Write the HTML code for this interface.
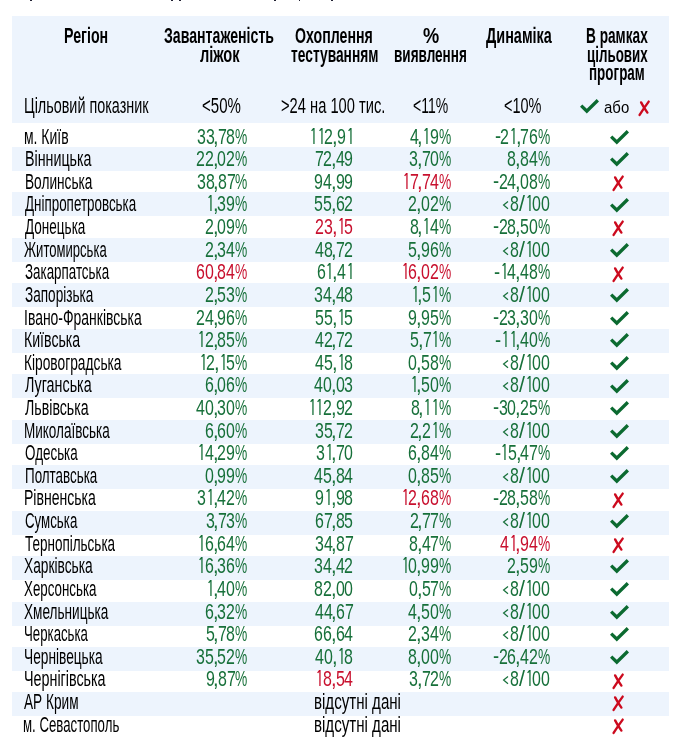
<!DOCTYPE html>
<html><head><meta charset="utf-8"><style>
html,body{margin:0;padding:0;background:#fff}
body{width:690px;height:744px;overflow:hidden;position:relative}
.t{position:absolute;white-space:nowrap;font-family:"Liberation Sans",sans-serif;line-height:1}
#L{position:absolute;left:0;top:0;width:690px;height:744px;will-change:transform}
</style></head><body>
<div style="position:absolute;left:12px;top:16px;width:657px;height:106.8px;background:#edf4fd"></div>
<div style="position:absolute;left:12px;top:146.90px;width:657px;height:24px;background:#edf4fd"></div>
<div style="position:absolute;left:12px;top:192.36px;width:657px;height:24px;background:#edf4fd"></div>
<div style="position:absolute;left:12px;top:237.82px;width:657px;height:24px;background:#edf4fd"></div>
<div style="position:absolute;left:12px;top:283.28px;width:657px;height:24px;background:#edf4fd"></div>
<div style="position:absolute;left:12px;top:328.74px;width:657px;height:24px;background:#edf4fd"></div>
<div style="position:absolute;left:12px;top:374.20px;width:657px;height:24px;background:#edf4fd"></div>
<div style="position:absolute;left:12px;top:419.66px;width:657px;height:24px;background:#edf4fd"></div>
<div style="position:absolute;left:12px;top:465.12px;width:657px;height:24px;background:#edf4fd"></div>
<div style="position:absolute;left:12px;top:510.58px;width:657px;height:24px;background:#edf4fd"></div>
<div style="position:absolute;left:12px;top:556.04px;width:657px;height:24px;background:#edf4fd"></div>
<div style="position:absolute;left:12px;top:601.50px;width:657px;height:24px;background:#edf4fd"></div>
<div style="position:absolute;left:12px;top:646.96px;width:657px;height:24px;background:#edf4fd"></div>
<div style="position:absolute;left:12px;top:692.42px;width:657px;height:24px;background:#edf4fd"></div>
<div id="L">
<div class="t" style="left:64.28px;top:25.22px;font-size:21.6px;color:#000;transform:scaleX(0.6583);transform-origin:0 18.28px;font-weight:bold;">Регіон</div>
<div class="t" style="left:164.25px;top:25.22px;font-size:21.6px;color:#000;transform:scaleX(0.6543);transform-origin:0 18.28px;font-weight:bold;">Завантаженість</div>
<div class="t" style="left:199.55px;top:43.72px;font-size:21.6px;color:#000;transform:scaleX(0.6773);transform-origin:0 18.28px;font-weight:bold;">ліжок</div>
<div class="t" style="left:295.33px;top:25.22px;font-size:21.6px;color:#000;transform:scaleX(0.6560);transform-origin:0 18.28px;font-weight:bold;">Охоплення</div>
<div class="t" style="left:290.59px;top:43.72px;font-size:21.6px;color:#000;transform:scaleX(0.6378);transform-origin:0 18.28px;font-weight:bold;">тестуванням</div>
<div class="t" style="left:423.04px;top:25.22px;font-size:21.6px;color:#000;transform:scaleX(0.8433);transform-origin:0 18.28px;font-weight:bold;">%</div>
<div class="t" style="left:393.55px;top:43.72px;font-size:21.6px;color:#000;transform:scaleX(0.6267);transform-origin:0 18.28px;font-weight:bold;">виявлення</div>
<div class="t" style="left:485.76px;top:25.22px;font-size:21.6px;color:#000;transform:scaleX(0.6680);transform-origin:0 18.28px;font-weight:bold;">Динаміка</div>
<div class="t" style="left:586.11px;top:25.22px;font-size:21.6px;color:#000;transform:scaleX(0.6325);transform-origin:0 18.28px;font-weight:bold;">В рамках</div>
<div class="t" style="left:586.56px;top:43.72px;font-size:21.6px;color:#000;transform:scaleX(0.6190);transform-origin:0 18.28px;font-weight:bold;">цільових</div>
<div class="t" style="left:589.46px;top:62.32px;font-size:21.6px;color:#000;transform:scaleX(0.6223);transform-origin:0 18.28px;font-weight:bold;">програм</div>
<div class="t" style="left:24.35px;top:95.18px;font-size:22px;color:#000;transform:scaleX(0.6537);transform-origin:0 18.62px;">Цільовий показник</div>
<div class="t" style="left:202.05px;top:95.18px;font-size:22px;color:#000;transform:scaleX(0.6836);transform-origin:0 18.62px;">&lt;50%</div>
<div class="t" style="left:281.47px;top:95.18px;font-size:22px;color:#000;transform:scaleX(0.6681);transform-origin:0 18.62px;">&gt;24 на 100 тис.</div>
<div class="t" style="left:412.80px;top:95.18px;font-size:22px;color:#000;transform:scaleX(0.6354);transform-origin:0 18.62px;">&lt;11%</div>
<div class="t" style="left:504.08px;top:95.18px;font-size:22px;color:#000;transform:scaleX(0.6582);transform-origin:0 18.62px;">&lt;10%</div>
<svg style="position:absolute;left:579.80px;top:99.40px;overflow:visible" width="20" height="16"><polygon points="2.30,5.40 6.80,9.80 16.70,0.00 19.00,2.40 6.80,14.60 0.00,7.80" fill="#0b6a30"/></svg>
<div class="t" style="left:604.20px;top:95.18px;font-size:22px;color:#000;transform:scale(0.6797,0.7800);transform-origin:0 18.62px;">або</div>
<svg style="position:absolute;left:638.00px;top:99.60px;overflow:visible" width="14" height="17"><path d="M10.7 1.6 Q6 8 1.6 14.9 M3.1 2.4 Q6 8 9.4 12.6" stroke="#cc0a1e" stroke-width="2.4" stroke-linecap="round" fill="none"/></svg>
<div class="t" style="left:23.82px;top:125.60px;font-size:22px;color:#000;transform:scaleX(0.6346);transform-origin:0 18.62px;">м. Київ</div>
<div class="t" style="left:196.70px;top:125.60px;font-size:22px;color:#17703a;transform:scale(0.7253,1.0250);transform-origin:0 18.62px;">3</div>
<div class="t" style="left:205.50px;top:125.60px;font-size:22px;color:#17703a;transform:scale(0.7253,1.0250);transform-origin:0 18.62px;">3</div>
<div class="t" style="left:213.10px;top:125.60px;font-size:22px;color:#17703a;transform:scaleX(0.9091);transform-origin:0 18.62px;">,</div>
<div class="t" style="left:218.00px;top:125.60px;font-size:22px;color:#17703a;transform:scale(0.7253,1.0250);transform-origin:0 18.62px;">7</div>
<div class="t" style="left:226.20px;top:125.60px;font-size:22px;color:#17703a;transform:scale(0.7253,1.0250);transform-origin:0 18.62px;">8</div>
<div class="t" style="left:235.22px;top:125.60px;font-size:22px;color:#17703a;transform:scale(0.6264,1.0250);transform-origin:0 18.62px;">%</div>
<svg style="position:absolute;left:311.00px;top:128.10px;overflow:visible" width="3.6" height="15.9"><path d="M2.95 0 V15.90 M2.65 0.5 L0.6 2.9" stroke="#17703a" stroke-width="1.3" fill="none"/></svg>
<svg style="position:absolute;left:318.60px;top:128.10px;overflow:visible" width="3.6" height="15.9"><path d="M2.95 0 V15.90 M2.65 0.5 L0.6 2.9" stroke="#17703a" stroke-width="1.3" fill="none"/></svg>
<div class="t" style="left:324.20px;top:125.60px;font-size:22px;color:#17703a;transform:scale(0.7253,1.0250);transform-origin:0 18.62px;">2</div>
<div class="t" style="left:331.80px;top:125.60px;font-size:22px;color:#17703a;transform:scaleX(0.9091);transform-origin:0 18.62px;">,</div>
<div class="t" style="left:336.70px;top:125.60px;font-size:22px;color:#17703a;transform:scale(0.7253,1.0250);transform-origin:0 18.62px;">9</div>
<svg style="position:absolute;left:347.50px;top:128.10px;overflow:visible" width="3.6" height="15.9"><path d="M2.95 0 V15.90 M2.65 0.5 L0.6 2.9" stroke="#17703a" stroke-width="1.3" fill="none"/></svg>
<div class="t" style="left:409.60px;top:125.60px;font-size:22px;color:#17703a;transform:scale(0.7253,1.0250);transform-origin:0 18.62px;">4</div>
<div class="t" style="left:417.20px;top:125.60px;font-size:22px;color:#17703a;transform:scaleX(0.9091);transform-origin:0 18.62px;">,</div>
<svg style="position:absolute;left:424.10px;top:128.10px;overflow:visible" width="3.6" height="15.9"><path d="M2.95 0 V15.90 M2.65 0.5 L0.6 2.9" stroke="#17703a" stroke-width="1.3" fill="none"/></svg>
<div class="t" style="left:429.70px;top:125.60px;font-size:22px;color:#17703a;transform:scale(0.7253,1.0250);transform-origin:0 18.62px;">9</div>
<div class="t" style="left:438.72px;top:125.60px;font-size:22px;color:#17703a;transform:scale(0.6264,1.0250);transform-origin:0 18.62px;">%</div>
<div class="t" style="left:494.87px;top:125.00px;font-size:22px;color:#17703a;transform:scaleX(0.8349);transform-origin:0 18.62px;">-</div>
<div class="t" style="left:500.30px;top:125.60px;font-size:22px;color:#17703a;transform:scale(0.7253,1.0250);transform-origin:0 18.62px;">2</div>
<svg style="position:absolute;left:511.10px;top:128.10px;overflow:visible" width="3.6" height="15.9"><path d="M2.95 0 V15.90 M2.65 0.5 L0.6 2.9" stroke="#17703a" stroke-width="1.3" fill="none"/></svg>
<div class="t" style="left:515.50px;top:125.60px;font-size:22px;color:#17703a;transform:scaleX(0.9091);transform-origin:0 18.62px;">,</div>
<div class="t" style="left:520.40px;top:125.60px;font-size:22px;color:#17703a;transform:scale(0.7253,1.0250);transform-origin:0 18.62px;">7</div>
<div class="t" style="left:528.60px;top:125.60px;font-size:22px;color:#17703a;transform:scale(0.7253,1.0250);transform-origin:0 18.62px;">6</div>
<div class="t" style="left:537.62px;top:125.60px;font-size:22px;color:#17703a;transform:scale(0.6264,1.0250);transform-origin:0 18.62px;">%</div>
<svg style="position:absolute;left:610.00px;top:129.75px;overflow:visible" width="20" height="16"><polygon points="2.30,5.40 6.80,9.80 16.70,0.00 19.00,2.40 6.80,14.60 0.00,7.80" fill="#0b6a30"/></svg>
<div class="t" style="left:24.56px;top:148.21px;font-size:22px;color:#000;transform:scaleX(0.6481);transform-origin:0 18.62px;">Вінницька</div>
<div class="t" style="left:196.10px;top:148.21px;font-size:22px;color:#17703a;transform:scale(0.7253,1.0250);transform-origin:0 18.62px;">2</div>
<div class="t" style="left:204.90px;top:148.21px;font-size:22px;color:#17703a;transform:scale(0.7253,1.0250);transform-origin:0 18.62px;">2</div>
<div class="t" style="left:212.50px;top:148.21px;font-size:22px;color:#17703a;transform:scaleX(0.9091);transform-origin:0 18.62px;">,</div>
<div class="t" style="left:217.40px;top:148.21px;font-size:22px;color:#17703a;transform:scale(0.7253,1.0250);transform-origin:0 18.62px;">0</div>
<div class="t" style="left:226.20px;top:148.21px;font-size:22px;color:#17703a;transform:scale(0.7253,1.0250);transform-origin:0 18.62px;">2</div>
<div class="t" style="left:235.22px;top:148.21px;font-size:22px;color:#17703a;transform:scale(0.6264,1.0250);transform-origin:0 18.62px;">%</div>
<div class="t" style="left:314.80px;top:148.21px;font-size:22px;color:#17703a;transform:scale(0.7253,1.0250);transform-origin:0 18.62px;">7</div>
<div class="t" style="left:323.00px;top:148.21px;font-size:22px;color:#17703a;transform:scale(0.7253,1.0250);transform-origin:0 18.62px;">2</div>
<div class="t" style="left:330.60px;top:148.21px;font-size:22px;color:#17703a;transform:scaleX(0.9091);transform-origin:0 18.62px;">,</div>
<div class="t" style="left:335.50px;top:148.21px;font-size:22px;color:#17703a;transform:scale(0.7253,1.0250);transform-origin:0 18.62px;">4</div>
<div class="t" style="left:344.30px;top:148.21px;font-size:22px;color:#17703a;transform:scale(0.7253,1.0250);transform-origin:0 18.62px;">9</div>
<div class="t" style="left:409.00px;top:148.21px;font-size:22px;color:#17703a;transform:scale(0.7253,1.0250);transform-origin:0 18.62px;">3</div>
<div class="t" style="left:416.60px;top:148.21px;font-size:22px;color:#17703a;transform:scaleX(0.9091);transform-origin:0 18.62px;">,</div>
<div class="t" style="left:421.50px;top:148.21px;font-size:22px;color:#17703a;transform:scale(0.7253,1.0250);transform-origin:0 18.62px;">7</div>
<div class="t" style="left:429.70px;top:148.21px;font-size:22px;color:#17703a;transform:scale(0.7253,1.0250);transform-origin:0 18.62px;">0</div>
<div class="t" style="left:438.72px;top:148.21px;font-size:22px;color:#17703a;transform:scale(0.6264,1.0250);transform-origin:0 18.62px;">%</div>
<div class="t" style="left:507.30px;top:148.21px;font-size:22px;color:#17703a;transform:scale(0.7253,1.0250);transform-origin:0 18.62px;">8</div>
<div class="t" style="left:514.90px;top:148.21px;font-size:22px;color:#17703a;transform:scaleX(0.9091);transform-origin:0 18.62px;">,</div>
<div class="t" style="left:519.80px;top:148.21px;font-size:22px;color:#17703a;transform:scale(0.7253,1.0250);transform-origin:0 18.62px;">8</div>
<div class="t" style="left:528.60px;top:148.21px;font-size:22px;color:#17703a;transform:scale(0.7253,1.0250);transform-origin:0 18.62px;">4</div>
<div class="t" style="left:537.62px;top:148.21px;font-size:22px;color:#17703a;transform:scale(0.6264,1.0250);transform-origin:0 18.62px;">%</div>
<svg style="position:absolute;left:610.00px;top:152.37px;overflow:visible" width="20" height="16"><polygon points="2.30,5.40 6.80,9.80 16.70,0.00 19.00,2.40 6.80,14.60 0.00,7.80" fill="#0b6a30"/></svg>
<div class="t" style="left:24.51px;top:170.83px;font-size:22px;color:#000;transform:scaleX(0.6214);transform-origin:0 18.62px;">Волинська</div>
<div class="t" style="left:196.70px;top:170.83px;font-size:22px;color:#17703a;transform:scale(0.7253,1.0250);transform-origin:0 18.62px;">3</div>
<div class="t" style="left:205.50px;top:170.83px;font-size:22px;color:#17703a;transform:scale(0.7253,1.0250);transform-origin:0 18.62px;">8</div>
<div class="t" style="left:213.10px;top:170.83px;font-size:22px;color:#17703a;transform:scaleX(0.9091);transform-origin:0 18.62px;">,</div>
<div class="t" style="left:218.00px;top:170.83px;font-size:22px;color:#17703a;transform:scale(0.7253,1.0250);transform-origin:0 18.62px;">8</div>
<div class="t" style="left:226.80px;top:170.83px;font-size:22px;color:#17703a;transform:scale(0.7253,1.0250);transform-origin:0 18.62px;">7</div>
<div class="t" style="left:235.22px;top:170.83px;font-size:22px;color:#17703a;transform:scale(0.6264,1.0250);transform-origin:0 18.62px;">%</div>
<div class="t" style="left:314.20px;top:170.83px;font-size:22px;color:#17703a;transform:scale(0.7253,1.0250);transform-origin:0 18.62px;">9</div>
<div class="t" style="left:323.00px;top:170.83px;font-size:22px;color:#17703a;transform:scale(0.7253,1.0250);transform-origin:0 18.62px;">4</div>
<div class="t" style="left:330.60px;top:170.83px;font-size:22px;color:#17703a;transform:scaleX(0.9091);transform-origin:0 18.62px;">,</div>
<div class="t" style="left:335.50px;top:170.83px;font-size:22px;color:#17703a;transform:scale(0.7253,1.0250);transform-origin:0 18.62px;">9</div>
<div class="t" style="left:344.30px;top:170.83px;font-size:22px;color:#17703a;transform:scale(0.7253,1.0250);transform-origin:0 18.62px;">9</div>
<svg style="position:absolute;left:404.00px;top:173.10px;overflow:visible" width="3.6" height="15.9"><path d="M2.95 0 V15.90 M2.65 0.5 L0.6 2.9" stroke="#c8102e" stroke-width="1.3" fill="none"/></svg>
<div class="t" style="left:409.60px;top:170.83px;font-size:22px;color:#c8102e;transform:scale(0.7253,1.0250);transform-origin:0 18.62px;">7</div>
<div class="t" style="left:416.60px;top:170.83px;font-size:22px;color:#c8102e;transform:scaleX(0.9091);transform-origin:0 18.62px;">,</div>
<div class="t" style="left:421.50px;top:170.83px;font-size:22px;color:#c8102e;transform:scale(0.7253,1.0250);transform-origin:0 18.62px;">7</div>
<div class="t" style="left:429.70px;top:170.83px;font-size:22px;color:#c8102e;transform:scale(0.7253,1.0250);transform-origin:0 18.62px;">4</div>
<div class="t" style="left:438.72px;top:170.83px;font-size:22px;color:#c8102e;transform:scale(0.6264,1.0250);transform-origin:0 18.62px;">%</div>
<div class="t" style="left:493.07px;top:170.23px;font-size:22px;color:#17703a;transform:scaleX(0.8349);transform-origin:0 18.62px;">-</div>
<div class="t" style="left:498.50px;top:170.83px;font-size:22px;color:#17703a;transform:scale(0.7253,1.0250);transform-origin:0 18.62px;">2</div>
<div class="t" style="left:507.30px;top:170.83px;font-size:22px;color:#17703a;transform:scale(0.7253,1.0250);transform-origin:0 18.62px;">4</div>
<div class="t" style="left:514.90px;top:170.83px;font-size:22px;color:#17703a;transform:scaleX(0.9091);transform-origin:0 18.62px;">,</div>
<div class="t" style="left:519.80px;top:170.83px;font-size:22px;color:#17703a;transform:scale(0.7253,1.0250);transform-origin:0 18.62px;">0</div>
<div class="t" style="left:528.60px;top:170.83px;font-size:22px;color:#17703a;transform:scale(0.7253,1.0250);transform-origin:0 18.62px;">8</div>
<div class="t" style="left:537.62px;top:170.83px;font-size:22px;color:#17703a;transform:scale(0.6264,1.0250);transform-origin:0 18.62px;">%</div>
<svg style="position:absolute;left:612.30px;top:175.05px;overflow:visible" width="14" height="17"><path d="M10.7 1.6 Q6 8 1.6 14.9 M3.1 2.4 Q6 8 9.4 12.6" stroke="#cc0a1e" stroke-width="2.4" stroke-linecap="round" fill="none"/></svg>
<div class="t" style="left:24.63px;top:193.44px;font-size:22px;color:#000;transform:scaleX(0.6092);transform-origin:0 18.62px;">Дніпропетровська</div>
<svg style="position:absolute;left:208.10px;top:195.10px;overflow:visible" width="3.6" height="15.9"><path d="M2.95 0 V15.90 M2.65 0.5 L0.6 2.9" stroke="#17703a" stroke-width="1.3" fill="none"/></svg>
<div class="t" style="left:212.50px;top:193.44px;font-size:22px;color:#17703a;transform:scaleX(0.9091);transform-origin:0 18.62px;">,</div>
<div class="t" style="left:217.40px;top:193.44px;font-size:22px;color:#17703a;transform:scale(0.7253,1.0250);transform-origin:0 18.62px;">3</div>
<div class="t" style="left:226.20px;top:193.44px;font-size:22px;color:#17703a;transform:scale(0.7253,1.0250);transform-origin:0 18.62px;">9</div>
<div class="t" style="left:235.22px;top:193.44px;font-size:22px;color:#17703a;transform:scale(0.6264,1.0250);transform-origin:0 18.62px;">%</div>
<div class="t" style="left:314.20px;top:193.44px;font-size:22px;color:#17703a;transform:scale(0.7253,1.0250);transform-origin:0 18.62px;">5</div>
<div class="t" style="left:323.00px;top:193.44px;font-size:22px;color:#17703a;transform:scale(0.7253,1.0250);transform-origin:0 18.62px;">5</div>
<div class="t" style="left:330.60px;top:193.44px;font-size:22px;color:#17703a;transform:scaleX(0.9091);transform-origin:0 18.62px;">,</div>
<div class="t" style="left:335.50px;top:193.44px;font-size:22px;color:#17703a;transform:scale(0.7253,1.0250);transform-origin:0 18.62px;">6</div>
<div class="t" style="left:344.30px;top:193.44px;font-size:22px;color:#17703a;transform:scale(0.7253,1.0250);transform-origin:0 18.62px;">2</div>
<div class="t" style="left:408.40px;top:193.44px;font-size:22px;color:#17703a;transform:scale(0.7253,1.0250);transform-origin:0 18.62px;">2</div>
<div class="t" style="left:416.00px;top:193.44px;font-size:22px;color:#17703a;transform:scaleX(0.9091);transform-origin:0 18.62px;">,</div>
<div class="t" style="left:420.90px;top:193.44px;font-size:22px;color:#17703a;transform:scale(0.7253,1.0250);transform-origin:0 18.62px;">0</div>
<div class="t" style="left:429.70px;top:193.44px;font-size:22px;color:#17703a;transform:scale(0.7253,1.0250);transform-origin:0 18.62px;">2</div>
<div class="t" style="left:438.72px;top:193.44px;font-size:22px;color:#17703a;transform:scale(0.6264,1.0250);transform-origin:0 18.62px;">%</div>
<svg style="position:absolute;left:502.80px;top:201.30px;overflow:visible" width="5.5" height="8.2"><path d="M5.00 0.45 L0.6 4.10 L5.00 7.75" stroke="#17703a" stroke-width="1.25" fill="none" stroke-linejoin="miter"/></svg>
<div class="t" style="left:509.80px;top:193.44px;font-size:22px;color:#17703a;transform:scale(0.7253,1.0250);transform-origin:0 18.62px;">8</div>
<div class="t" style="left:518.70px;top:193.44px;font-size:22px;color:#17703a;transform:scaleX(0.9740);transform-origin:0 18.62px;">/</div>
<svg style="position:absolute;left:526.80px;top:195.10px;overflow:visible" width="3.6" height="15.9"><path d="M2.95 0 V15.90 M2.65 0.5 L0.6 2.9" stroke="#17703a" stroke-width="1.3" fill="none"/></svg>
<div class="t" style="left:532.40px;top:193.44px;font-size:22px;color:#17703a;transform:scale(0.7253,1.0250);transform-origin:0 18.62px;">0</div>
<div class="t" style="left:541.20px;top:193.44px;font-size:22px;color:#17703a;transform:scale(0.7253,1.0250);transform-origin:0 18.62px;">0</div>
<svg style="position:absolute;left:610.00px;top:197.59px;overflow:visible" width="20" height="16"><polygon points="2.30,5.40 6.80,9.80 16.70,0.00 19.00,2.40 6.80,14.60 0.00,7.80" fill="#0b6a30"/></svg>
<div class="t" style="left:24.63px;top:216.06px;font-size:22px;color:#000;transform:scaleX(0.6152);transform-origin:0 18.62px;">Донецька</div>
<div class="t" style="left:204.90px;top:216.06px;font-size:22px;color:#17703a;transform:scale(0.7253,1.0250);transform-origin:0 18.62px;">2</div>
<div class="t" style="left:212.50px;top:216.06px;font-size:22px;color:#17703a;transform:scaleX(0.9091);transform-origin:0 18.62px;">,</div>
<div class="t" style="left:217.40px;top:216.06px;font-size:22px;color:#17703a;transform:scale(0.7253,1.0250);transform-origin:0 18.62px;">0</div>
<div class="t" style="left:226.20px;top:216.06px;font-size:22px;color:#17703a;transform:scale(0.7253,1.0250);transform-origin:0 18.62px;">9</div>
<div class="t" style="left:235.22px;top:216.06px;font-size:22px;color:#17703a;transform:scale(0.6264,1.0250);transform-origin:0 18.62px;">%</div>
<div class="t" style="left:315.40px;top:216.06px;font-size:22px;color:#c8102e;transform:scale(0.7253,1.0250);transform-origin:0 18.62px;">2</div>
<div class="t" style="left:324.20px;top:216.06px;font-size:22px;color:#c8102e;transform:scale(0.7253,1.0250);transform-origin:0 18.62px;">3</div>
<div class="t" style="left:331.80px;top:216.06px;font-size:22px;color:#c8102e;transform:scaleX(0.9091);transform-origin:0 18.62px;">,</div>
<svg style="position:absolute;left:338.70px;top:218.10px;overflow:visible" width="3.6" height="15.9"><path d="M2.95 0 V15.90 M2.65 0.5 L0.6 2.9" stroke="#c8102e" stroke-width="1.3" fill="none"/></svg>
<div class="t" style="left:344.30px;top:216.06px;font-size:22px;color:#c8102e;transform:scale(0.7253,1.0250);transform-origin:0 18.62px;">5</div>
<div class="t" style="left:409.60px;top:216.06px;font-size:22px;color:#17703a;transform:scale(0.7253,1.0250);transform-origin:0 18.62px;">8</div>
<div class="t" style="left:417.20px;top:216.06px;font-size:22px;color:#17703a;transform:scaleX(0.9091);transform-origin:0 18.62px;">,</div>
<svg style="position:absolute;left:424.10px;top:218.10px;overflow:visible" width="3.6" height="15.9"><path d="M2.95 0 V15.90 M2.65 0.5 L0.6 2.9" stroke="#17703a" stroke-width="1.3" fill="none"/></svg>
<div class="t" style="left:429.70px;top:216.06px;font-size:22px;color:#17703a;transform:scale(0.7253,1.0250);transform-origin:0 18.62px;">4</div>
<div class="t" style="left:438.72px;top:216.06px;font-size:22px;color:#17703a;transform:scale(0.6264,1.0250);transform-origin:0 18.62px;">%</div>
<div class="t" style="left:493.07px;top:215.46px;font-size:22px;color:#17703a;transform:scaleX(0.8349);transform-origin:0 18.62px;">-</div>
<div class="t" style="left:498.50px;top:216.06px;font-size:22px;color:#17703a;transform:scale(0.7253,1.0250);transform-origin:0 18.62px;">2</div>
<div class="t" style="left:507.30px;top:216.06px;font-size:22px;color:#17703a;transform:scale(0.7253,1.0250);transform-origin:0 18.62px;">8</div>
<div class="t" style="left:514.90px;top:216.06px;font-size:22px;color:#17703a;transform:scaleX(0.9091);transform-origin:0 18.62px;">,</div>
<div class="t" style="left:519.80px;top:216.06px;font-size:22px;color:#17703a;transform:scale(0.7253,1.0250);transform-origin:0 18.62px;">5</div>
<div class="t" style="left:528.60px;top:216.06px;font-size:22px;color:#17703a;transform:scale(0.7253,1.0250);transform-origin:0 18.62px;">0</div>
<div class="t" style="left:537.62px;top:216.06px;font-size:22px;color:#17703a;transform:scale(0.6264,1.0250);transform-origin:0 18.62px;">%</div>
<svg style="position:absolute;left:612.30px;top:220.28px;overflow:visible" width="14" height="17"><path d="M10.7 1.6 Q6 8 1.6 14.9 M3.1 2.4 Q6 8 9.4 12.6" stroke="#cc0a1e" stroke-width="2.4" stroke-linecap="round" fill="none"/></svg>
<div class="t" style="left:23.90px;top:238.67px;font-size:22px;color:#000;transform:scaleX(0.5943);transform-origin:0 18.62px;">Житомирська</div>
<div class="t" style="left:204.90px;top:238.67px;font-size:22px;color:#17703a;transform:scale(0.7253,1.0250);transform-origin:0 18.62px;">2</div>
<div class="t" style="left:212.50px;top:238.67px;font-size:22px;color:#17703a;transform:scaleX(0.9091);transform-origin:0 18.62px;">,</div>
<div class="t" style="left:217.40px;top:238.67px;font-size:22px;color:#17703a;transform:scale(0.7253,1.0250);transform-origin:0 18.62px;">3</div>
<div class="t" style="left:226.20px;top:238.67px;font-size:22px;color:#17703a;transform:scale(0.7253,1.0250);transform-origin:0 18.62px;">4</div>
<div class="t" style="left:235.22px;top:238.67px;font-size:22px;color:#17703a;transform:scale(0.6264,1.0250);transform-origin:0 18.62px;">%</div>
<div class="t" style="left:314.80px;top:238.67px;font-size:22px;color:#17703a;transform:scale(0.7253,1.0250);transform-origin:0 18.62px;">4</div>
<div class="t" style="left:323.60px;top:238.67px;font-size:22px;color:#17703a;transform:scale(0.7253,1.0250);transform-origin:0 18.62px;">8</div>
<div class="t" style="left:331.20px;top:238.67px;font-size:22px;color:#17703a;transform:scaleX(0.9091);transform-origin:0 18.62px;">,</div>
<div class="t" style="left:336.10px;top:238.67px;font-size:22px;color:#17703a;transform:scale(0.7253,1.0250);transform-origin:0 18.62px;">7</div>
<div class="t" style="left:344.30px;top:238.67px;font-size:22px;color:#17703a;transform:scale(0.7253,1.0250);transform-origin:0 18.62px;">2</div>
<div class="t" style="left:408.40px;top:238.67px;font-size:22px;color:#17703a;transform:scale(0.7253,1.0250);transform-origin:0 18.62px;">5</div>
<div class="t" style="left:416.00px;top:238.67px;font-size:22px;color:#17703a;transform:scaleX(0.9091);transform-origin:0 18.62px;">,</div>
<div class="t" style="left:420.90px;top:238.67px;font-size:22px;color:#17703a;transform:scale(0.7253,1.0250);transform-origin:0 18.62px;">9</div>
<div class="t" style="left:429.70px;top:238.67px;font-size:22px;color:#17703a;transform:scale(0.7253,1.0250);transform-origin:0 18.62px;">6</div>
<div class="t" style="left:438.72px;top:238.67px;font-size:22px;color:#17703a;transform:scale(0.6264,1.0250);transform-origin:0 18.62px;">%</div>
<svg style="position:absolute;left:502.80px;top:247.30px;overflow:visible" width="5.5" height="8.2"><path d="M5.00 0.45 L0.6 4.10 L5.00 7.75" stroke="#17703a" stroke-width="1.25" fill="none" stroke-linejoin="miter"/></svg>
<div class="t" style="left:509.80px;top:238.67px;font-size:22px;color:#17703a;transform:scale(0.7253,1.0250);transform-origin:0 18.62px;">8</div>
<div class="t" style="left:518.70px;top:238.67px;font-size:22px;color:#17703a;transform:scaleX(0.9740);transform-origin:0 18.62px;">/</div>
<svg style="position:absolute;left:526.80px;top:241.10px;overflow:visible" width="3.6" height="15.9"><path d="M2.95 0 V15.90 M2.65 0.5 L0.6 2.9" stroke="#17703a" stroke-width="1.3" fill="none"/></svg>
<div class="t" style="left:532.40px;top:238.67px;font-size:22px;color:#17703a;transform:scale(0.7253,1.0250);transform-origin:0 18.62px;">0</div>
<div class="t" style="left:541.20px;top:238.67px;font-size:22px;color:#17703a;transform:scale(0.7253,1.0250);transform-origin:0 18.62px;">0</div>
<svg style="position:absolute;left:610.00px;top:242.82px;overflow:visible" width="20" height="16"><polygon points="2.30,5.40 6.80,9.80 16.70,0.00 19.00,2.40 6.80,14.60 0.00,7.80" fill="#0b6a30"/></svg>
<div class="t" style="left:24.83px;top:261.29px;font-size:22px;color:#000;transform:scaleX(0.6075);transform-origin:0 18.62px;">Закарпатська</div>
<div class="t" style="left:196.10px;top:261.29px;font-size:22px;color:#c8102e;transform:scale(0.7253,1.0250);transform-origin:0 18.62px;">6</div>
<div class="t" style="left:204.90px;top:261.29px;font-size:22px;color:#c8102e;transform:scale(0.7253,1.0250);transform-origin:0 18.62px;">0</div>
<div class="t" style="left:212.50px;top:261.29px;font-size:22px;color:#c8102e;transform:scaleX(0.9091);transform-origin:0 18.62px;">,</div>
<div class="t" style="left:217.40px;top:261.29px;font-size:22px;color:#c8102e;transform:scale(0.7253,1.0250);transform-origin:0 18.62px;">8</div>
<div class="t" style="left:226.20px;top:261.29px;font-size:22px;color:#c8102e;transform:scale(0.7253,1.0250);transform-origin:0 18.62px;">4</div>
<div class="t" style="left:235.22px;top:261.29px;font-size:22px;color:#c8102e;transform:scale(0.6264,1.0250);transform-origin:0 18.62px;">%</div>
<div class="t" style="left:316.60px;top:261.29px;font-size:22px;color:#17703a;transform:scale(0.7253,1.0250);transform-origin:0 18.62px;">6</div>
<svg style="position:absolute;left:327.40px;top:263.10px;overflow:visible" width="3.6" height="15.9"><path d="M2.95 0 V15.90 M2.65 0.5 L0.6 2.9" stroke="#17703a" stroke-width="1.3" fill="none"/></svg>
<div class="t" style="left:331.80px;top:261.29px;font-size:22px;color:#17703a;transform:scaleX(0.9091);transform-origin:0 18.62px;">,</div>
<div class="t" style="left:336.70px;top:261.29px;font-size:22px;color:#17703a;transform:scale(0.7253,1.0250);transform-origin:0 18.62px;">4</div>
<svg style="position:absolute;left:347.50px;top:263.10px;overflow:visible" width="3.6" height="15.9"><path d="M2.95 0 V15.90 M2.65 0.5 L0.6 2.9" stroke="#17703a" stroke-width="1.3" fill="none"/></svg>
<svg style="position:absolute;left:402.80px;top:263.10px;overflow:visible" width="3.6" height="15.9"><path d="M2.95 0 V15.90 M2.65 0.5 L0.6 2.9" stroke="#c8102e" stroke-width="1.3" fill="none"/></svg>
<div class="t" style="left:408.40px;top:261.29px;font-size:22px;color:#c8102e;transform:scale(0.7253,1.0250);transform-origin:0 18.62px;">6</div>
<div class="t" style="left:416.00px;top:261.29px;font-size:22px;color:#c8102e;transform:scaleX(0.9091);transform-origin:0 18.62px;">,</div>
<div class="t" style="left:420.90px;top:261.29px;font-size:22px;color:#c8102e;transform:scale(0.7253,1.0250);transform-origin:0 18.62px;">0</div>
<div class="t" style="left:429.70px;top:261.29px;font-size:22px;color:#c8102e;transform:scale(0.7253,1.0250);transform-origin:0 18.62px;">2</div>
<div class="t" style="left:438.72px;top:261.29px;font-size:22px;color:#c8102e;transform:scale(0.6264,1.0250);transform-origin:0 18.62px;">%</div>
<div class="t" style="left:494.27px;top:260.69px;font-size:22px;color:#17703a;transform:scaleX(0.8349);transform-origin:0 18.62px;">-</div>
<svg style="position:absolute;left:501.70px;top:263.10px;overflow:visible" width="3.6" height="15.9"><path d="M2.95 0 V15.90 M2.65 0.5 L0.6 2.9" stroke="#17703a" stroke-width="1.3" fill="none"/></svg>
<div class="t" style="left:507.30px;top:261.29px;font-size:22px;color:#17703a;transform:scale(0.7253,1.0250);transform-origin:0 18.62px;">4</div>
<div class="t" style="left:514.90px;top:261.29px;font-size:22px;color:#17703a;transform:scaleX(0.9091);transform-origin:0 18.62px;">,</div>
<div class="t" style="left:519.80px;top:261.29px;font-size:22px;color:#17703a;transform:scale(0.7253,1.0250);transform-origin:0 18.62px;">4</div>
<div class="t" style="left:528.60px;top:261.29px;font-size:22px;color:#17703a;transform:scale(0.7253,1.0250);transform-origin:0 18.62px;">8</div>
<div class="t" style="left:537.62px;top:261.29px;font-size:22px;color:#17703a;transform:scale(0.6264,1.0250);transform-origin:0 18.62px;">%</div>
<svg style="position:absolute;left:612.30px;top:265.51px;overflow:visible" width="14" height="17"><path d="M10.7 1.6 Q6 8 1.6 14.9 M3.1 2.4 Q6 8 9.4 12.6" stroke="#cc0a1e" stroke-width="2.4" stroke-linecap="round" fill="none"/></svg>
<div class="t" style="left:24.82px;top:283.90px;font-size:22px;color:#000;transform:scaleX(0.6170);transform-origin:0 18.62px;">Запорізька</div>
<div class="t" style="left:204.90px;top:283.90px;font-size:22px;color:#17703a;transform:scale(0.7253,1.0250);transform-origin:0 18.62px;">2</div>
<div class="t" style="left:212.50px;top:283.90px;font-size:22px;color:#17703a;transform:scaleX(0.9091);transform-origin:0 18.62px;">,</div>
<div class="t" style="left:217.40px;top:283.90px;font-size:22px;color:#17703a;transform:scale(0.7253,1.0250);transform-origin:0 18.62px;">5</div>
<div class="t" style="left:226.20px;top:283.90px;font-size:22px;color:#17703a;transform:scale(0.7253,1.0250);transform-origin:0 18.62px;">3</div>
<div class="t" style="left:235.22px;top:283.90px;font-size:22px;color:#17703a;transform:scale(0.6264,1.0250);transform-origin:0 18.62px;">%</div>
<div class="t" style="left:314.20px;top:283.90px;font-size:22px;color:#17703a;transform:scale(0.7253,1.0250);transform-origin:0 18.62px;">3</div>
<div class="t" style="left:323.00px;top:283.90px;font-size:22px;color:#17703a;transform:scale(0.7253,1.0250);transform-origin:0 18.62px;">4</div>
<div class="t" style="left:330.60px;top:283.90px;font-size:22px;color:#17703a;transform:scaleX(0.9091);transform-origin:0 18.62px;">,</div>
<div class="t" style="left:335.50px;top:283.90px;font-size:22px;color:#17703a;transform:scale(0.7253,1.0250);transform-origin:0 18.62px;">4</div>
<div class="t" style="left:344.30px;top:283.90px;font-size:22px;color:#17703a;transform:scale(0.7253,1.0250);transform-origin:0 18.62px;">8</div>
<svg style="position:absolute;left:412.80px;top:286.10px;overflow:visible" width="3.6" height="15.9"><path d="M2.95 0 V15.90 M2.65 0.5 L0.6 2.9" stroke="#17703a" stroke-width="1.3" fill="none"/></svg>
<div class="t" style="left:417.20px;top:283.90px;font-size:22px;color:#17703a;transform:scaleX(0.9091);transform-origin:0 18.62px;">,</div>
<div class="t" style="left:422.10px;top:283.90px;font-size:22px;color:#17703a;transform:scale(0.7253,1.0250);transform-origin:0 18.62px;">5</div>
<svg style="position:absolute;left:432.90px;top:286.10px;overflow:visible" width="3.6" height="15.9"><path d="M2.95 0 V15.90 M2.65 0.5 L0.6 2.9" stroke="#17703a" stroke-width="1.3" fill="none"/></svg>
<div class="t" style="left:438.72px;top:283.90px;font-size:22px;color:#17703a;transform:scale(0.6264,1.0250);transform-origin:0 18.62px;">%</div>
<svg style="position:absolute;left:502.80px;top:292.30px;overflow:visible" width="5.5" height="8.2"><path d="M5.00 0.45 L0.6 4.10 L5.00 7.75" stroke="#17703a" stroke-width="1.25" fill="none" stroke-linejoin="miter"/></svg>
<div class="t" style="left:509.80px;top:283.90px;font-size:22px;color:#17703a;transform:scale(0.7253,1.0250);transform-origin:0 18.62px;">8</div>
<div class="t" style="left:518.70px;top:283.90px;font-size:22px;color:#17703a;transform:scaleX(0.9740);transform-origin:0 18.62px;">/</div>
<svg style="position:absolute;left:526.80px;top:286.10px;overflow:visible" width="3.6" height="15.9"><path d="M2.95 0 V15.90 M2.65 0.5 L0.6 2.9" stroke="#17703a" stroke-width="1.3" fill="none"/></svg>
<div class="t" style="left:532.40px;top:283.90px;font-size:22px;color:#17703a;transform:scale(0.7253,1.0250);transform-origin:0 18.62px;">0</div>
<div class="t" style="left:541.20px;top:283.90px;font-size:22px;color:#17703a;transform:scale(0.7253,1.0250);transform-origin:0 18.62px;">0</div>
<svg style="position:absolute;left:610.00px;top:288.05px;overflow:visible" width="20" height="16"><polygon points="2.30,5.40 6.80,9.80 16.70,0.00 19.00,2.40 6.80,14.60 0.00,7.80" fill="#0b6a30"/></svg>
<div class="t" style="left:24.34px;top:306.52px;font-size:22px;color:#000;transform:scaleX(0.6340);transform-origin:0 18.62px;">Івано-Франківська</div>
<div class="t" style="left:196.10px;top:306.52px;font-size:22px;color:#17703a;transform:scale(0.7253,1.0250);transform-origin:0 18.62px;">2</div>
<div class="t" style="left:204.90px;top:306.52px;font-size:22px;color:#17703a;transform:scale(0.7253,1.0250);transform-origin:0 18.62px;">4</div>
<div class="t" style="left:212.50px;top:306.52px;font-size:22px;color:#17703a;transform:scaleX(0.9091);transform-origin:0 18.62px;">,</div>
<div class="t" style="left:217.40px;top:306.52px;font-size:22px;color:#17703a;transform:scale(0.7253,1.0250);transform-origin:0 18.62px;">9</div>
<div class="t" style="left:226.20px;top:306.52px;font-size:22px;color:#17703a;transform:scale(0.7253,1.0250);transform-origin:0 18.62px;">6</div>
<div class="t" style="left:235.22px;top:306.52px;font-size:22px;color:#17703a;transform:scale(0.6264,1.0250);transform-origin:0 18.62px;">%</div>
<div class="t" style="left:315.40px;top:306.52px;font-size:22px;color:#17703a;transform:scale(0.7253,1.0250);transform-origin:0 18.62px;">5</div>
<div class="t" style="left:324.20px;top:306.52px;font-size:22px;color:#17703a;transform:scale(0.7253,1.0250);transform-origin:0 18.62px;">5</div>
<div class="t" style="left:331.80px;top:306.52px;font-size:22px;color:#17703a;transform:scaleX(0.9091);transform-origin:0 18.62px;">,</div>
<svg style="position:absolute;left:338.70px;top:309.10px;overflow:visible" width="3.6" height="15.9"><path d="M2.95 0 V15.90 M2.65 0.5 L0.6 2.9" stroke="#17703a" stroke-width="1.3" fill="none"/></svg>
<div class="t" style="left:344.30px;top:306.52px;font-size:22px;color:#17703a;transform:scale(0.7253,1.0250);transform-origin:0 18.62px;">5</div>
<div class="t" style="left:408.40px;top:306.52px;font-size:22px;color:#17703a;transform:scale(0.7253,1.0250);transform-origin:0 18.62px;">9</div>
<div class="t" style="left:416.00px;top:306.52px;font-size:22px;color:#17703a;transform:scaleX(0.9091);transform-origin:0 18.62px;">,</div>
<div class="t" style="left:420.90px;top:306.52px;font-size:22px;color:#17703a;transform:scale(0.7253,1.0250);transform-origin:0 18.62px;">9</div>
<div class="t" style="left:429.70px;top:306.52px;font-size:22px;color:#17703a;transform:scale(0.7253,1.0250);transform-origin:0 18.62px;">5</div>
<div class="t" style="left:438.72px;top:306.52px;font-size:22px;color:#17703a;transform:scale(0.6264,1.0250);transform-origin:0 18.62px;">%</div>
<div class="t" style="left:493.07px;top:305.92px;font-size:22px;color:#17703a;transform:scaleX(0.8349);transform-origin:0 18.62px;">-</div>
<div class="t" style="left:498.50px;top:306.52px;font-size:22px;color:#17703a;transform:scale(0.7253,1.0250);transform-origin:0 18.62px;">2</div>
<div class="t" style="left:507.30px;top:306.52px;font-size:22px;color:#17703a;transform:scale(0.7253,1.0250);transform-origin:0 18.62px;">3</div>
<div class="t" style="left:514.90px;top:306.52px;font-size:22px;color:#17703a;transform:scaleX(0.9091);transform-origin:0 18.62px;">,</div>
<div class="t" style="left:519.80px;top:306.52px;font-size:22px;color:#17703a;transform:scale(0.7253,1.0250);transform-origin:0 18.62px;">3</div>
<div class="t" style="left:528.60px;top:306.52px;font-size:22px;color:#17703a;transform:scale(0.7253,1.0250);transform-origin:0 18.62px;">0</div>
<div class="t" style="left:537.62px;top:306.52px;font-size:22px;color:#17703a;transform:scale(0.6264,1.0250);transform-origin:0 18.62px;">%</div>
<svg style="position:absolute;left:610.00px;top:310.67px;overflow:visible" width="20" height="16"><polygon points="2.30,5.40 6.80,9.80 16.70,0.00 19.00,2.40 6.80,14.60 0.00,7.80" fill="#0b6a30"/></svg>
<div class="t" style="left:24.17px;top:329.13px;font-size:22px;color:#000;transform:scaleX(0.6418);transform-origin:0 18.62px;">Київська</div>
<svg style="position:absolute;left:199.30px;top:331.10px;overflow:visible" width="3.6" height="15.9"><path d="M2.95 0 V15.90 M2.65 0.5 L0.6 2.9" stroke="#17703a" stroke-width="1.3" fill="none"/></svg>
<div class="t" style="left:204.90px;top:329.13px;font-size:22px;color:#17703a;transform:scale(0.7253,1.0250);transform-origin:0 18.62px;">2</div>
<div class="t" style="left:212.50px;top:329.13px;font-size:22px;color:#17703a;transform:scaleX(0.9091);transform-origin:0 18.62px;">,</div>
<div class="t" style="left:217.40px;top:329.13px;font-size:22px;color:#17703a;transform:scale(0.7253,1.0250);transform-origin:0 18.62px;">8</div>
<div class="t" style="left:226.20px;top:329.13px;font-size:22px;color:#17703a;transform:scale(0.7253,1.0250);transform-origin:0 18.62px;">5</div>
<div class="t" style="left:235.22px;top:329.13px;font-size:22px;color:#17703a;transform:scale(0.6264,1.0250);transform-origin:0 18.62px;">%</div>
<div class="t" style="left:314.80px;top:329.13px;font-size:22px;color:#17703a;transform:scale(0.7253,1.0250);transform-origin:0 18.62px;">4</div>
<div class="t" style="left:323.60px;top:329.13px;font-size:22px;color:#17703a;transform:scale(0.7253,1.0250);transform-origin:0 18.62px;">2</div>
<div class="t" style="left:331.20px;top:329.13px;font-size:22px;color:#17703a;transform:scaleX(0.9091);transform-origin:0 18.62px;">,</div>
<div class="t" style="left:336.10px;top:329.13px;font-size:22px;color:#17703a;transform:scale(0.7253,1.0250);transform-origin:0 18.62px;">7</div>
<div class="t" style="left:344.30px;top:329.13px;font-size:22px;color:#17703a;transform:scale(0.7253,1.0250);transform-origin:0 18.62px;">2</div>
<div class="t" style="left:410.20px;top:329.13px;font-size:22px;color:#17703a;transform:scale(0.7253,1.0250);transform-origin:0 18.62px;">5</div>
<div class="t" style="left:417.80px;top:329.13px;font-size:22px;color:#17703a;transform:scaleX(0.9091);transform-origin:0 18.62px;">,</div>
<div class="t" style="left:422.70px;top:329.13px;font-size:22px;color:#17703a;transform:scale(0.7253,1.0250);transform-origin:0 18.62px;">7</div>
<svg style="position:absolute;left:432.90px;top:331.10px;overflow:visible" width="3.6" height="15.9"><path d="M2.95 0 V15.90 M2.65 0.5 L0.6 2.9" stroke="#17703a" stroke-width="1.3" fill="none"/></svg>
<div class="t" style="left:438.72px;top:329.13px;font-size:22px;color:#17703a;transform:scale(0.6264,1.0250);transform-origin:0 18.62px;">%</div>
<div class="t" style="left:495.47px;top:328.53px;font-size:22px;color:#17703a;transform:scaleX(0.8349);transform-origin:0 18.62px;">-</div>
<svg style="position:absolute;left:502.90px;top:331.10px;overflow:visible" width="3.6" height="15.9"><path d="M2.95 0 V15.90 M2.65 0.5 L0.6 2.9" stroke="#17703a" stroke-width="1.3" fill="none"/></svg>
<svg style="position:absolute;left:510.50px;top:331.10px;overflow:visible" width="3.6" height="15.9"><path d="M2.95 0 V15.90 M2.65 0.5 L0.6 2.9" stroke="#17703a" stroke-width="1.3" fill="none"/></svg>
<div class="t" style="left:514.90px;top:329.13px;font-size:22px;color:#17703a;transform:scaleX(0.9091);transform-origin:0 18.62px;">,</div>
<div class="t" style="left:519.80px;top:329.13px;font-size:22px;color:#17703a;transform:scale(0.7253,1.0250);transform-origin:0 18.62px;">4</div>
<div class="t" style="left:528.60px;top:329.13px;font-size:22px;color:#17703a;transform:scale(0.7253,1.0250);transform-origin:0 18.62px;">0</div>
<div class="t" style="left:537.62px;top:329.13px;font-size:22px;color:#17703a;transform:scale(0.6264,1.0250);transform-origin:0 18.62px;">%</div>
<svg style="position:absolute;left:610.00px;top:333.28px;overflow:visible" width="20" height="16"><polygon points="2.30,5.40 6.80,9.80 16.70,0.00 19.00,2.40 6.80,14.60 0.00,7.80" fill="#0b6a30"/></svg>
<div class="t" style="left:24.20px;top:351.75px;font-size:22px;color:#000;transform:scaleX(0.6251);transform-origin:0 18.62px;">Кіровоградська</div>
<svg style="position:absolute;left:200.50px;top:354.10px;overflow:visible" width="3.6" height="15.9"><path d="M2.95 0 V15.90 M2.65 0.5 L0.6 2.9" stroke="#17703a" stroke-width="1.3" fill="none"/></svg>
<div class="t" style="left:206.10px;top:351.75px;font-size:22px;color:#17703a;transform:scale(0.7253,1.0250);transform-origin:0 18.62px;">2</div>
<div class="t" style="left:213.70px;top:351.75px;font-size:22px;color:#17703a;transform:scaleX(0.9091);transform-origin:0 18.62px;">,</div>
<svg style="position:absolute;left:220.60px;top:354.10px;overflow:visible" width="3.6" height="15.9"><path d="M2.95 0 V15.90 M2.65 0.5 L0.6 2.9" stroke="#17703a" stroke-width="1.3" fill="none"/></svg>
<div class="t" style="left:226.20px;top:351.75px;font-size:22px;color:#17703a;transform:scale(0.7253,1.0250);transform-origin:0 18.62px;">5</div>
<div class="t" style="left:235.22px;top:351.75px;font-size:22px;color:#17703a;transform:scale(0.6264,1.0250);transform-origin:0 18.62px;">%</div>
<div class="t" style="left:315.40px;top:351.75px;font-size:22px;color:#17703a;transform:scale(0.7253,1.0250);transform-origin:0 18.62px;">4</div>
<div class="t" style="left:324.20px;top:351.75px;font-size:22px;color:#17703a;transform:scale(0.7253,1.0250);transform-origin:0 18.62px;">5</div>
<div class="t" style="left:331.80px;top:351.75px;font-size:22px;color:#17703a;transform:scaleX(0.9091);transform-origin:0 18.62px;">,</div>
<svg style="position:absolute;left:338.70px;top:354.10px;overflow:visible" width="3.6" height="15.9"><path d="M2.95 0 V15.90 M2.65 0.5 L0.6 2.9" stroke="#17703a" stroke-width="1.3" fill="none"/></svg>
<div class="t" style="left:344.30px;top:351.75px;font-size:22px;color:#17703a;transform:scale(0.7253,1.0250);transform-origin:0 18.62px;">8</div>
<div class="t" style="left:408.40px;top:351.75px;font-size:22px;color:#17703a;transform:scale(0.7253,1.0250);transform-origin:0 18.62px;">0</div>
<div class="t" style="left:416.00px;top:351.75px;font-size:22px;color:#17703a;transform:scaleX(0.9091);transform-origin:0 18.62px;">,</div>
<div class="t" style="left:420.90px;top:351.75px;font-size:22px;color:#17703a;transform:scale(0.7253,1.0250);transform-origin:0 18.62px;">5</div>
<div class="t" style="left:429.70px;top:351.75px;font-size:22px;color:#17703a;transform:scale(0.7253,1.0250);transform-origin:0 18.62px;">8</div>
<div class="t" style="left:438.72px;top:351.75px;font-size:22px;color:#17703a;transform:scale(0.6264,1.0250);transform-origin:0 18.62px;">%</div>
<svg style="position:absolute;left:502.80px;top:360.30px;overflow:visible" width="5.5" height="8.2"><path d="M5.00 0.45 L0.6 4.10 L5.00 7.75" stroke="#17703a" stroke-width="1.25" fill="none" stroke-linejoin="miter"/></svg>
<div class="t" style="left:509.80px;top:351.75px;font-size:22px;color:#17703a;transform:scale(0.7253,1.0250);transform-origin:0 18.62px;">8</div>
<div class="t" style="left:518.70px;top:351.75px;font-size:22px;color:#17703a;transform:scaleX(0.9740);transform-origin:0 18.62px;">/</div>
<svg style="position:absolute;left:526.80px;top:354.10px;overflow:visible" width="3.6" height="15.9"><path d="M2.95 0 V15.90 M2.65 0.5 L0.6 2.9" stroke="#17703a" stroke-width="1.3" fill="none"/></svg>
<div class="t" style="left:532.40px;top:351.75px;font-size:22px;color:#17703a;transform:scale(0.7253,1.0250);transform-origin:0 18.62px;">0</div>
<div class="t" style="left:541.20px;top:351.75px;font-size:22px;color:#17703a;transform:scale(0.7253,1.0250);transform-origin:0 18.62px;">0</div>
<svg style="position:absolute;left:610.00px;top:355.90px;overflow:visible" width="20" height="16"><polygon points="2.30,5.40 6.80,9.80 16.70,0.00 19.00,2.40 6.80,14.60 0.00,7.80" fill="#0b6a30"/></svg>
<div class="t" style="left:24.56px;top:374.36px;font-size:22px;color:#000;transform:scaleX(0.6507);transform-origin:0 18.62px;">Луганська</div>
<div class="t" style="left:204.90px;top:374.36px;font-size:22px;color:#17703a;transform:scale(0.7253,1.0250);transform-origin:0 18.62px;">6</div>
<div class="t" style="left:212.50px;top:374.36px;font-size:22px;color:#17703a;transform:scaleX(0.9091);transform-origin:0 18.62px;">,</div>
<div class="t" style="left:217.40px;top:374.36px;font-size:22px;color:#17703a;transform:scale(0.7253,1.0250);transform-origin:0 18.62px;">0</div>
<div class="t" style="left:226.20px;top:374.36px;font-size:22px;color:#17703a;transform:scale(0.7253,1.0250);transform-origin:0 18.62px;">6</div>
<div class="t" style="left:235.22px;top:374.36px;font-size:22px;color:#17703a;transform:scale(0.6264,1.0250);transform-origin:0 18.62px;">%</div>
<div class="t" style="left:314.20px;top:374.36px;font-size:22px;color:#17703a;transform:scale(0.7253,1.0250);transform-origin:0 18.62px;">4</div>
<div class="t" style="left:323.00px;top:374.36px;font-size:22px;color:#17703a;transform:scale(0.7253,1.0250);transform-origin:0 18.62px;">0</div>
<div class="t" style="left:330.60px;top:374.36px;font-size:22px;color:#17703a;transform:scaleX(0.9091);transform-origin:0 18.62px;">,</div>
<div class="t" style="left:335.50px;top:374.36px;font-size:22px;color:#17703a;transform:scale(0.7253,1.0250);transform-origin:0 18.62px;">0</div>
<div class="t" style="left:344.30px;top:374.36px;font-size:22px;color:#17703a;transform:scale(0.7253,1.0250);transform-origin:0 18.62px;">3</div>
<svg style="position:absolute;left:411.60px;top:376.10px;overflow:visible" width="3.6" height="15.9"><path d="M2.95 0 V15.90 M2.65 0.5 L0.6 2.9" stroke="#17703a" stroke-width="1.3" fill="none"/></svg>
<div class="t" style="left:416.00px;top:374.36px;font-size:22px;color:#17703a;transform:scaleX(0.9091);transform-origin:0 18.62px;">,</div>
<div class="t" style="left:420.90px;top:374.36px;font-size:22px;color:#17703a;transform:scale(0.7253,1.0250);transform-origin:0 18.62px;">5</div>
<div class="t" style="left:429.70px;top:374.36px;font-size:22px;color:#17703a;transform:scale(0.7253,1.0250);transform-origin:0 18.62px;">0</div>
<div class="t" style="left:438.72px;top:374.36px;font-size:22px;color:#17703a;transform:scale(0.6264,1.0250);transform-origin:0 18.62px;">%</div>
<svg style="position:absolute;left:502.80px;top:382.30px;overflow:visible" width="5.5" height="8.2"><path d="M5.00 0.45 L0.6 4.10 L5.00 7.75" stroke="#17703a" stroke-width="1.25" fill="none" stroke-linejoin="miter"/></svg>
<div class="t" style="left:509.80px;top:374.36px;font-size:22px;color:#17703a;transform:scale(0.7253,1.0250);transform-origin:0 18.62px;">8</div>
<div class="t" style="left:518.70px;top:374.36px;font-size:22px;color:#17703a;transform:scaleX(0.9740);transform-origin:0 18.62px;">/</div>
<svg style="position:absolute;left:526.80px;top:376.10px;overflow:visible" width="3.6" height="15.9"><path d="M2.95 0 V15.90 M2.65 0.5 L0.6 2.9" stroke="#17703a" stroke-width="1.3" fill="none"/></svg>
<div class="t" style="left:532.40px;top:374.36px;font-size:22px;color:#17703a;transform:scale(0.7253,1.0250);transform-origin:0 18.62px;">0</div>
<div class="t" style="left:541.20px;top:374.36px;font-size:22px;color:#17703a;transform:scale(0.7253,1.0250);transform-origin:0 18.62px;">0</div>
<svg style="position:absolute;left:610.00px;top:378.51px;overflow:visible" width="20" height="16"><polygon points="2.30,5.40 6.80,9.80 16.70,0.00 19.00,2.40 6.80,14.60 0.00,7.80" fill="#0b6a30"/></svg>
<div class="t" style="left:24.56px;top:396.98px;font-size:22px;color:#000;transform:scaleX(0.6450);transform-origin:0 18.62px;">Львівська</div>
<div class="t" style="left:196.10px;top:396.98px;font-size:22px;color:#17703a;transform:scale(0.7253,1.0250);transform-origin:0 18.62px;">4</div>
<div class="t" style="left:204.90px;top:396.98px;font-size:22px;color:#17703a;transform:scale(0.7253,1.0250);transform-origin:0 18.62px;">0</div>
<div class="t" style="left:212.50px;top:396.98px;font-size:22px;color:#17703a;transform:scaleX(0.9091);transform-origin:0 18.62px;">,</div>
<div class="t" style="left:217.40px;top:396.98px;font-size:22px;color:#17703a;transform:scale(0.7253,1.0250);transform-origin:0 18.62px;">3</div>
<div class="t" style="left:226.20px;top:396.98px;font-size:22px;color:#17703a;transform:scale(0.7253,1.0250);transform-origin:0 18.62px;">0</div>
<div class="t" style="left:235.22px;top:396.98px;font-size:22px;color:#17703a;transform:scale(0.6264,1.0250);transform-origin:0 18.62px;">%</div>
<svg style="position:absolute;left:309.80px;top:399.10px;overflow:visible" width="3.6" height="15.9"><path d="M2.95 0 V15.90 M2.65 0.5 L0.6 2.9" stroke="#17703a" stroke-width="1.3" fill="none"/></svg>
<svg style="position:absolute;left:317.40px;top:399.10px;overflow:visible" width="3.6" height="15.9"><path d="M2.95 0 V15.90 M2.65 0.5 L0.6 2.9" stroke="#17703a" stroke-width="1.3" fill="none"/></svg>
<div class="t" style="left:323.00px;top:396.98px;font-size:22px;color:#17703a;transform:scale(0.7253,1.0250);transform-origin:0 18.62px;">2</div>
<div class="t" style="left:330.60px;top:396.98px;font-size:22px;color:#17703a;transform:scaleX(0.9091);transform-origin:0 18.62px;">,</div>
<div class="t" style="left:335.50px;top:396.98px;font-size:22px;color:#17703a;transform:scale(0.7253,1.0250);transform-origin:0 18.62px;">9</div>
<div class="t" style="left:344.30px;top:396.98px;font-size:22px;color:#17703a;transform:scale(0.7253,1.0250);transform-origin:0 18.62px;">2</div>
<div class="t" style="left:410.80px;top:396.98px;font-size:22px;color:#17703a;transform:scale(0.7253,1.0250);transform-origin:0 18.62px;">8</div>
<div class="t" style="left:418.40px;top:396.98px;font-size:22px;color:#17703a;transform:scaleX(0.9091);transform-origin:0 18.62px;">,</div>
<svg style="position:absolute;left:425.30px;top:399.10px;overflow:visible" width="3.6" height="15.9"><path d="M2.95 0 V15.90 M2.65 0.5 L0.6 2.9" stroke="#17703a" stroke-width="1.3" fill="none"/></svg>
<svg style="position:absolute;left:432.90px;top:399.10px;overflow:visible" width="3.6" height="15.9"><path d="M2.95 0 V15.90 M2.65 0.5 L0.6 2.9" stroke="#17703a" stroke-width="1.3" fill="none"/></svg>
<div class="t" style="left:438.72px;top:396.98px;font-size:22px;color:#17703a;transform:scale(0.6264,1.0250);transform-origin:0 18.62px;">%</div>
<div class="t" style="left:493.07px;top:396.38px;font-size:22px;color:#17703a;transform:scaleX(0.8349);transform-origin:0 18.62px;">-</div>
<div class="t" style="left:498.50px;top:396.98px;font-size:22px;color:#17703a;transform:scale(0.7253,1.0250);transform-origin:0 18.62px;">3</div>
<div class="t" style="left:507.30px;top:396.98px;font-size:22px;color:#17703a;transform:scale(0.7253,1.0250);transform-origin:0 18.62px;">0</div>
<div class="t" style="left:514.90px;top:396.98px;font-size:22px;color:#17703a;transform:scaleX(0.9091);transform-origin:0 18.62px;">,</div>
<div class="t" style="left:519.80px;top:396.98px;font-size:22px;color:#17703a;transform:scale(0.7253,1.0250);transform-origin:0 18.62px;">2</div>
<div class="t" style="left:528.60px;top:396.98px;font-size:22px;color:#17703a;transform:scale(0.7253,1.0250);transform-origin:0 18.62px;">5</div>
<div class="t" style="left:537.62px;top:396.98px;font-size:22px;color:#17703a;transform:scale(0.6264,1.0250);transform-origin:0 18.62px;">%</div>
<svg style="position:absolute;left:610.00px;top:401.13px;overflow:visible" width="20" height="16"><polygon points="2.30,5.40 6.80,9.80 16.70,0.00 19.00,2.40 6.80,14.60 0.00,7.80" fill="#0b6a30"/></svg>
<div class="t" style="left:24.22px;top:419.59px;font-size:22px;color:#000;transform:scaleX(0.6140);transform-origin:0 18.62px;">Миколаївська</div>
<div class="t" style="left:204.90px;top:419.59px;font-size:22px;color:#17703a;transform:scale(0.7253,1.0250);transform-origin:0 18.62px;">6</div>
<div class="t" style="left:212.50px;top:419.59px;font-size:22px;color:#17703a;transform:scaleX(0.9091);transform-origin:0 18.62px;">,</div>
<div class="t" style="left:217.40px;top:419.59px;font-size:22px;color:#17703a;transform:scale(0.7253,1.0250);transform-origin:0 18.62px;">6</div>
<div class="t" style="left:226.20px;top:419.59px;font-size:22px;color:#17703a;transform:scale(0.7253,1.0250);transform-origin:0 18.62px;">0</div>
<div class="t" style="left:235.22px;top:419.59px;font-size:22px;color:#17703a;transform:scale(0.6264,1.0250);transform-origin:0 18.62px;">%</div>
<div class="t" style="left:314.80px;top:419.59px;font-size:22px;color:#17703a;transform:scale(0.7253,1.0250);transform-origin:0 18.62px;">3</div>
<div class="t" style="left:323.60px;top:419.59px;font-size:22px;color:#17703a;transform:scale(0.7253,1.0250);transform-origin:0 18.62px;">5</div>
<div class="t" style="left:331.20px;top:419.59px;font-size:22px;color:#17703a;transform:scaleX(0.9091);transform-origin:0 18.62px;">,</div>
<div class="t" style="left:336.10px;top:419.59px;font-size:22px;color:#17703a;transform:scale(0.7253,1.0250);transform-origin:0 18.62px;">7</div>
<div class="t" style="left:344.30px;top:419.59px;font-size:22px;color:#17703a;transform:scale(0.7253,1.0250);transform-origin:0 18.62px;">2</div>
<div class="t" style="left:409.60px;top:419.59px;font-size:22px;color:#17703a;transform:scale(0.7253,1.0250);transform-origin:0 18.62px;">2</div>
<div class="t" style="left:417.20px;top:419.59px;font-size:22px;color:#17703a;transform:scaleX(0.9091);transform-origin:0 18.62px;">,</div>
<div class="t" style="left:422.10px;top:419.59px;font-size:22px;color:#17703a;transform:scale(0.7253,1.0250);transform-origin:0 18.62px;">2</div>
<svg style="position:absolute;left:432.90px;top:422.10px;overflow:visible" width="3.6" height="15.9"><path d="M2.95 0 V15.90 M2.65 0.5 L0.6 2.9" stroke="#17703a" stroke-width="1.3" fill="none"/></svg>
<div class="t" style="left:438.72px;top:419.59px;font-size:22px;color:#17703a;transform:scale(0.6264,1.0250);transform-origin:0 18.62px;">%</div>
<svg style="position:absolute;left:502.80px;top:428.30px;overflow:visible" width="5.5" height="8.2"><path d="M5.00 0.45 L0.6 4.10 L5.00 7.75" stroke="#17703a" stroke-width="1.25" fill="none" stroke-linejoin="miter"/></svg>
<div class="t" style="left:509.80px;top:419.59px;font-size:22px;color:#17703a;transform:scale(0.7253,1.0250);transform-origin:0 18.62px;">8</div>
<div class="t" style="left:518.70px;top:419.59px;font-size:22px;color:#17703a;transform:scaleX(0.9740);transform-origin:0 18.62px;">/</div>
<svg style="position:absolute;left:526.80px;top:422.10px;overflow:visible" width="3.6" height="15.9"><path d="M2.95 0 V15.90 M2.65 0.5 L0.6 2.9" stroke="#17703a" stroke-width="1.3" fill="none"/></svg>
<div class="t" style="left:532.40px;top:419.59px;font-size:22px;color:#17703a;transform:scale(0.7253,1.0250);transform-origin:0 18.62px;">0</div>
<div class="t" style="left:541.20px;top:419.59px;font-size:22px;color:#17703a;transform:scale(0.7253,1.0250);transform-origin:0 18.62px;">0</div>
<svg style="position:absolute;left:610.00px;top:423.75px;overflow:visible" width="20" height="16"><polygon points="2.30,5.40 6.80,9.80 16.70,0.00 19.00,2.40 6.80,14.60 0.00,7.80" fill="#0b6a30"/></svg>
<div class="t" style="left:24.70px;top:442.21px;font-size:22px;color:#000;transform:scaleX(0.6096);transform-origin:0 18.62px;">Одеська</div>
<svg style="position:absolute;left:199.30px;top:444.10px;overflow:visible" width="3.6" height="15.9"><path d="M2.95 0 V15.90 M2.65 0.5 L0.6 2.9" stroke="#17703a" stroke-width="1.3" fill="none"/></svg>
<div class="t" style="left:204.90px;top:442.21px;font-size:22px;color:#17703a;transform:scale(0.7253,1.0250);transform-origin:0 18.62px;">4</div>
<div class="t" style="left:212.50px;top:442.21px;font-size:22px;color:#17703a;transform:scaleX(0.9091);transform-origin:0 18.62px;">,</div>
<div class="t" style="left:217.40px;top:442.21px;font-size:22px;color:#17703a;transform:scale(0.7253,1.0250);transform-origin:0 18.62px;">2</div>
<div class="t" style="left:226.20px;top:442.21px;font-size:22px;color:#17703a;transform:scale(0.7253,1.0250);transform-origin:0 18.62px;">9</div>
<div class="t" style="left:235.22px;top:442.21px;font-size:22px;color:#17703a;transform:scale(0.6264,1.0250);transform-origin:0 18.62px;">%</div>
<div class="t" style="left:316.00px;top:442.21px;font-size:22px;color:#17703a;transform:scale(0.7253,1.0250);transform-origin:0 18.62px;">3</div>
<svg style="position:absolute;left:326.80px;top:444.10px;overflow:visible" width="3.6" height="15.9"><path d="M2.95 0 V15.90 M2.65 0.5 L0.6 2.9" stroke="#17703a" stroke-width="1.3" fill="none"/></svg>
<div class="t" style="left:331.20px;top:442.21px;font-size:22px;color:#17703a;transform:scaleX(0.9091);transform-origin:0 18.62px;">,</div>
<div class="t" style="left:336.10px;top:442.21px;font-size:22px;color:#17703a;transform:scale(0.7253,1.0250);transform-origin:0 18.62px;">7</div>
<div class="t" style="left:344.30px;top:442.21px;font-size:22px;color:#17703a;transform:scale(0.7253,1.0250);transform-origin:0 18.62px;">0</div>
<div class="t" style="left:408.40px;top:442.21px;font-size:22px;color:#17703a;transform:scale(0.7253,1.0250);transform-origin:0 18.62px;">6</div>
<div class="t" style="left:416.00px;top:442.21px;font-size:22px;color:#17703a;transform:scaleX(0.9091);transform-origin:0 18.62px;">,</div>
<div class="t" style="left:420.90px;top:442.21px;font-size:22px;color:#17703a;transform:scale(0.7253,1.0250);transform-origin:0 18.62px;">8</div>
<div class="t" style="left:429.70px;top:442.21px;font-size:22px;color:#17703a;transform:scale(0.7253,1.0250);transform-origin:0 18.62px;">4</div>
<div class="t" style="left:438.72px;top:442.21px;font-size:22px;color:#17703a;transform:scale(0.6264,1.0250);transform-origin:0 18.62px;">%</div>
<div class="t" style="left:494.87px;top:441.61px;font-size:22px;color:#17703a;transform:scaleX(0.8349);transform-origin:0 18.62px;">-</div>
<svg style="position:absolute;left:502.30px;top:444.10px;overflow:visible" width="3.6" height="15.9"><path d="M2.95 0 V15.90 M2.65 0.5 L0.6 2.9" stroke="#17703a" stroke-width="1.3" fill="none"/></svg>
<div class="t" style="left:507.90px;top:442.21px;font-size:22px;color:#17703a;transform:scale(0.7253,1.0250);transform-origin:0 18.62px;">5</div>
<div class="t" style="left:515.50px;top:442.21px;font-size:22px;color:#17703a;transform:scaleX(0.9091);transform-origin:0 18.62px;">,</div>
<div class="t" style="left:520.40px;top:442.21px;font-size:22px;color:#17703a;transform:scale(0.7253,1.0250);transform-origin:0 18.62px;">4</div>
<div class="t" style="left:529.20px;top:442.21px;font-size:22px;color:#17703a;transform:scale(0.7253,1.0250);transform-origin:0 18.62px;">7</div>
<div class="t" style="left:537.62px;top:442.21px;font-size:22px;color:#17703a;transform:scale(0.6264,1.0250);transform-origin:0 18.62px;">%</div>
<svg style="position:absolute;left:610.00px;top:446.36px;overflow:visible" width="20" height="16"><polygon points="2.30,5.40 6.80,9.80 16.70,0.00 19.00,2.40 6.80,14.60 0.00,7.80" fill="#0b6a30"/></svg>
<div class="t" style="left:24.53px;top:464.82px;font-size:22px;color:#000;transform:scaleX(0.6089);transform-origin:0 18.62px;">Полтавська</div>
<div class="t" style="left:204.90px;top:464.82px;font-size:22px;color:#17703a;transform:scale(0.7253,1.0250);transform-origin:0 18.62px;">0</div>
<div class="t" style="left:212.50px;top:464.82px;font-size:22px;color:#17703a;transform:scaleX(0.9091);transform-origin:0 18.62px;">,</div>
<div class="t" style="left:217.40px;top:464.82px;font-size:22px;color:#17703a;transform:scale(0.7253,1.0250);transform-origin:0 18.62px;">9</div>
<div class="t" style="left:226.20px;top:464.82px;font-size:22px;color:#17703a;transform:scale(0.7253,1.0250);transform-origin:0 18.62px;">9</div>
<div class="t" style="left:235.22px;top:464.82px;font-size:22px;color:#17703a;transform:scale(0.6264,1.0250);transform-origin:0 18.62px;">%</div>
<div class="t" style="left:314.20px;top:464.82px;font-size:22px;color:#17703a;transform:scale(0.7253,1.0250);transform-origin:0 18.62px;">4</div>
<div class="t" style="left:323.00px;top:464.82px;font-size:22px;color:#17703a;transform:scale(0.7253,1.0250);transform-origin:0 18.62px;">5</div>
<div class="t" style="left:330.60px;top:464.82px;font-size:22px;color:#17703a;transform:scaleX(0.9091);transform-origin:0 18.62px;">,</div>
<div class="t" style="left:335.50px;top:464.82px;font-size:22px;color:#17703a;transform:scale(0.7253,1.0250);transform-origin:0 18.62px;">8</div>
<div class="t" style="left:344.30px;top:464.82px;font-size:22px;color:#17703a;transform:scale(0.7253,1.0250);transform-origin:0 18.62px;">4</div>
<div class="t" style="left:408.40px;top:464.82px;font-size:22px;color:#17703a;transform:scale(0.7253,1.0250);transform-origin:0 18.62px;">0</div>
<div class="t" style="left:416.00px;top:464.82px;font-size:22px;color:#17703a;transform:scaleX(0.9091);transform-origin:0 18.62px;">,</div>
<div class="t" style="left:420.90px;top:464.82px;font-size:22px;color:#17703a;transform:scale(0.7253,1.0250);transform-origin:0 18.62px;">8</div>
<div class="t" style="left:429.70px;top:464.82px;font-size:22px;color:#17703a;transform:scale(0.7253,1.0250);transform-origin:0 18.62px;">5</div>
<div class="t" style="left:438.72px;top:464.82px;font-size:22px;color:#17703a;transform:scale(0.6264,1.0250);transform-origin:0 18.62px;">%</div>
<svg style="position:absolute;left:502.80px;top:473.30px;overflow:visible" width="5.5" height="8.2"><path d="M5.00 0.45 L0.6 4.10 L5.00 7.75" stroke="#17703a" stroke-width="1.25" fill="none" stroke-linejoin="miter"/></svg>
<div class="t" style="left:509.80px;top:464.82px;font-size:22px;color:#17703a;transform:scale(0.7253,1.0250);transform-origin:0 18.62px;">8</div>
<div class="t" style="left:518.70px;top:464.82px;font-size:22px;color:#17703a;transform:scaleX(0.9740);transform-origin:0 18.62px;">/</div>
<svg style="position:absolute;left:526.80px;top:467.10px;overflow:visible" width="3.6" height="15.9"><path d="M2.95 0 V15.90 M2.65 0.5 L0.6 2.9" stroke="#17703a" stroke-width="1.3" fill="none"/></svg>
<div class="t" style="left:532.40px;top:464.82px;font-size:22px;color:#17703a;transform:scale(0.7253,1.0250);transform-origin:0 18.62px;">0</div>
<div class="t" style="left:541.20px;top:464.82px;font-size:22px;color:#17703a;transform:scale(0.7253,1.0250);transform-origin:0 18.62px;">0</div>
<svg style="position:absolute;left:610.00px;top:468.97px;overflow:visible" width="20" height="16"><polygon points="2.30,5.40 6.80,9.80 16.70,0.00 19.00,2.40 6.80,14.60 0.00,7.80" fill="#0b6a30"/></svg>
<div class="t" style="left:24.48px;top:487.44px;font-size:22px;color:#000;transform:scaleX(0.6383);transform-origin:0 18.62px;">Рівненська</div>
<div class="t" style="left:197.30px;top:487.44px;font-size:22px;color:#17703a;transform:scale(0.7253,1.0250);transform-origin:0 18.62px;">3</div>
<svg style="position:absolute;left:208.10px;top:489.10px;overflow:visible" width="3.6" height="15.9"><path d="M2.95 0 V15.90 M2.65 0.5 L0.6 2.9" stroke="#17703a" stroke-width="1.3" fill="none"/></svg>
<div class="t" style="left:212.50px;top:487.44px;font-size:22px;color:#17703a;transform:scaleX(0.9091);transform-origin:0 18.62px;">,</div>
<div class="t" style="left:217.40px;top:487.44px;font-size:22px;color:#17703a;transform:scale(0.7253,1.0250);transform-origin:0 18.62px;">4</div>
<div class="t" style="left:226.20px;top:487.44px;font-size:22px;color:#17703a;transform:scale(0.7253,1.0250);transform-origin:0 18.62px;">2</div>
<div class="t" style="left:235.22px;top:487.44px;font-size:22px;color:#17703a;transform:scale(0.6264,1.0250);transform-origin:0 18.62px;">%</div>
<div class="t" style="left:315.40px;top:487.44px;font-size:22px;color:#17703a;transform:scale(0.7253,1.0250);transform-origin:0 18.62px;">9</div>
<svg style="position:absolute;left:326.20px;top:489.10px;overflow:visible" width="3.6" height="15.9"><path d="M2.95 0 V15.90 M2.65 0.5 L0.6 2.9" stroke="#17703a" stroke-width="1.3" fill="none"/></svg>
<div class="t" style="left:330.60px;top:487.44px;font-size:22px;color:#17703a;transform:scaleX(0.9091);transform-origin:0 18.62px;">,</div>
<div class="t" style="left:335.50px;top:487.44px;font-size:22px;color:#17703a;transform:scale(0.7253,1.0250);transform-origin:0 18.62px;">9</div>
<div class="t" style="left:344.30px;top:487.44px;font-size:22px;color:#17703a;transform:scale(0.7253,1.0250);transform-origin:0 18.62px;">8</div>
<svg style="position:absolute;left:402.80px;top:489.10px;overflow:visible" width="3.6" height="15.9"><path d="M2.95 0 V15.90 M2.65 0.5 L0.6 2.9" stroke="#c8102e" stroke-width="1.3" fill="none"/></svg>
<div class="t" style="left:408.40px;top:487.44px;font-size:22px;color:#c8102e;transform:scale(0.7253,1.0250);transform-origin:0 18.62px;">2</div>
<div class="t" style="left:416.00px;top:487.44px;font-size:22px;color:#c8102e;transform:scaleX(0.9091);transform-origin:0 18.62px;">,</div>
<div class="t" style="left:420.90px;top:487.44px;font-size:22px;color:#c8102e;transform:scale(0.7253,1.0250);transform-origin:0 18.62px;">6</div>
<div class="t" style="left:429.70px;top:487.44px;font-size:22px;color:#c8102e;transform:scale(0.7253,1.0250);transform-origin:0 18.62px;">8</div>
<div class="t" style="left:438.72px;top:487.44px;font-size:22px;color:#c8102e;transform:scale(0.6264,1.0250);transform-origin:0 18.62px;">%</div>
<div class="t" style="left:493.07px;top:486.84px;font-size:22px;color:#17703a;transform:scaleX(0.8349);transform-origin:0 18.62px;">-</div>
<div class="t" style="left:498.50px;top:487.44px;font-size:22px;color:#17703a;transform:scale(0.7253,1.0250);transform-origin:0 18.62px;">2</div>
<div class="t" style="left:507.30px;top:487.44px;font-size:22px;color:#17703a;transform:scale(0.7253,1.0250);transform-origin:0 18.62px;">8</div>
<div class="t" style="left:514.90px;top:487.44px;font-size:22px;color:#17703a;transform:scaleX(0.9091);transform-origin:0 18.62px;">,</div>
<div class="t" style="left:519.80px;top:487.44px;font-size:22px;color:#17703a;transform:scale(0.7253,1.0250);transform-origin:0 18.62px;">5</div>
<div class="t" style="left:528.60px;top:487.44px;font-size:22px;color:#17703a;transform:scale(0.7253,1.0250);transform-origin:0 18.62px;">8</div>
<div class="t" style="left:537.62px;top:487.44px;font-size:22px;color:#17703a;transform:scale(0.6264,1.0250);transform-origin:0 18.62px;">%</div>
<svg style="position:absolute;left:612.30px;top:491.66px;overflow:visible" width="14" height="17"><path d="M10.7 1.6 Q6 8 1.6 14.9 M3.1 2.4 Q6 8 9.4 12.6" stroke="#cc0a1e" stroke-width="2.4" stroke-linecap="round" fill="none"/></svg>
<div class="t" style="left:24.64px;top:510.05px;font-size:22px;color:#000;transform:scaleX(0.6037);transform-origin:0 18.62px;">Сумська</div>
<div class="t" style="left:205.50px;top:510.05px;font-size:22px;color:#17703a;transform:scale(0.7253,1.0250);transform-origin:0 18.62px;">3</div>
<div class="t" style="left:213.10px;top:510.05px;font-size:22px;color:#17703a;transform:scaleX(0.9091);transform-origin:0 18.62px;">,</div>
<div class="t" style="left:218.00px;top:510.05px;font-size:22px;color:#17703a;transform:scale(0.7253,1.0250);transform-origin:0 18.62px;">7</div>
<div class="t" style="left:226.20px;top:510.05px;font-size:22px;color:#17703a;transform:scale(0.7253,1.0250);transform-origin:0 18.62px;">3</div>
<div class="t" style="left:235.22px;top:510.05px;font-size:22px;color:#17703a;transform:scale(0.6264,1.0250);transform-origin:0 18.62px;">%</div>
<div class="t" style="left:314.80px;top:510.05px;font-size:22px;color:#17703a;transform:scale(0.7253,1.0250);transform-origin:0 18.62px;">6</div>
<div class="t" style="left:323.60px;top:510.05px;font-size:22px;color:#17703a;transform:scale(0.7253,1.0250);transform-origin:0 18.62px;">7</div>
<div class="t" style="left:330.60px;top:510.05px;font-size:22px;color:#17703a;transform:scaleX(0.9091);transform-origin:0 18.62px;">,</div>
<div class="t" style="left:335.50px;top:510.05px;font-size:22px;color:#17703a;transform:scale(0.7253,1.0250);transform-origin:0 18.62px;">8</div>
<div class="t" style="left:344.30px;top:510.05px;font-size:22px;color:#17703a;transform:scale(0.7253,1.0250);transform-origin:0 18.62px;">5</div>
<div class="t" style="left:409.60px;top:510.05px;font-size:22px;color:#17703a;transform:scale(0.7253,1.0250);transform-origin:0 18.62px;">2</div>
<div class="t" style="left:417.20px;top:510.05px;font-size:22px;color:#17703a;transform:scaleX(0.9091);transform-origin:0 18.62px;">,</div>
<div class="t" style="left:422.10px;top:510.05px;font-size:22px;color:#17703a;transform:scale(0.7253,1.0250);transform-origin:0 18.62px;">7</div>
<div class="t" style="left:430.30px;top:510.05px;font-size:22px;color:#17703a;transform:scale(0.7253,1.0250);transform-origin:0 18.62px;">7</div>
<div class="t" style="left:438.72px;top:510.05px;font-size:22px;color:#17703a;transform:scale(0.6264,1.0250);transform-origin:0 18.62px;">%</div>
<svg style="position:absolute;left:502.80px;top:518.30px;overflow:visible" width="5.5" height="8.2"><path d="M5.00 0.45 L0.6 4.10 L5.00 7.75" stroke="#17703a" stroke-width="1.25" fill="none" stroke-linejoin="miter"/></svg>
<div class="t" style="left:509.80px;top:510.05px;font-size:22px;color:#17703a;transform:scale(0.7253,1.0250);transform-origin:0 18.62px;">8</div>
<div class="t" style="left:518.70px;top:510.05px;font-size:22px;color:#17703a;transform:scaleX(0.9740);transform-origin:0 18.62px;">/</div>
<svg style="position:absolute;left:526.80px;top:512.10px;overflow:visible" width="3.6" height="15.9"><path d="M2.95 0 V15.90 M2.65 0.5 L0.6 2.9" stroke="#17703a" stroke-width="1.3" fill="none"/></svg>
<div class="t" style="left:532.40px;top:510.05px;font-size:22px;color:#17703a;transform:scale(0.7253,1.0250);transform-origin:0 18.62px;">0</div>
<div class="t" style="left:541.20px;top:510.05px;font-size:22px;color:#17703a;transform:scale(0.7253,1.0250);transform-origin:0 18.62px;">0</div>
<svg style="position:absolute;left:610.00px;top:514.20px;overflow:visible" width="20" height="16"><polygon points="2.30,5.40 6.80,9.80 16.70,0.00 19.00,2.40 6.80,14.60 0.00,7.80" fill="#0b6a30"/></svg>
<div class="t" style="left:25.03px;top:532.67px;font-size:22px;color:#000;transform:scaleX(0.6129);transform-origin:0 18.62px;">Тернопільська</div>
<svg style="position:absolute;left:199.30px;top:535.10px;overflow:visible" width="3.6" height="15.9"><path d="M2.95 0 V15.90 M2.65 0.5 L0.6 2.9" stroke="#17703a" stroke-width="1.3" fill="none"/></svg>
<div class="t" style="left:204.90px;top:532.67px;font-size:22px;color:#17703a;transform:scale(0.7253,1.0250);transform-origin:0 18.62px;">6</div>
<div class="t" style="left:212.50px;top:532.67px;font-size:22px;color:#17703a;transform:scaleX(0.9091);transform-origin:0 18.62px;">,</div>
<div class="t" style="left:217.40px;top:532.67px;font-size:22px;color:#17703a;transform:scale(0.7253,1.0250);transform-origin:0 18.62px;">6</div>
<div class="t" style="left:226.20px;top:532.67px;font-size:22px;color:#17703a;transform:scale(0.7253,1.0250);transform-origin:0 18.62px;">4</div>
<div class="t" style="left:235.22px;top:532.67px;font-size:22px;color:#17703a;transform:scale(0.6264,1.0250);transform-origin:0 18.62px;">%</div>
<div class="t" style="left:314.80px;top:532.67px;font-size:22px;color:#17703a;transform:scale(0.7253,1.0250);transform-origin:0 18.62px;">3</div>
<div class="t" style="left:323.60px;top:532.67px;font-size:22px;color:#17703a;transform:scale(0.7253,1.0250);transform-origin:0 18.62px;">4</div>
<div class="t" style="left:331.20px;top:532.67px;font-size:22px;color:#17703a;transform:scaleX(0.9091);transform-origin:0 18.62px;">,</div>
<div class="t" style="left:336.10px;top:532.67px;font-size:22px;color:#17703a;transform:scale(0.7253,1.0250);transform-origin:0 18.62px;">8</div>
<div class="t" style="left:344.90px;top:532.67px;font-size:22px;color:#17703a;transform:scale(0.7253,1.0250);transform-origin:0 18.62px;">7</div>
<div class="t" style="left:409.00px;top:532.67px;font-size:22px;color:#17703a;transform:scale(0.7253,1.0250);transform-origin:0 18.62px;">8</div>
<div class="t" style="left:416.60px;top:532.67px;font-size:22px;color:#17703a;transform:scaleX(0.9091);transform-origin:0 18.62px;">,</div>
<div class="t" style="left:421.50px;top:532.67px;font-size:22px;color:#17703a;transform:scale(0.7253,1.0250);transform-origin:0 18.62px;">4</div>
<div class="t" style="left:430.30px;top:532.67px;font-size:22px;color:#17703a;transform:scale(0.7253,1.0250);transform-origin:0 18.62px;">7</div>
<div class="t" style="left:438.72px;top:532.67px;font-size:22px;color:#17703a;transform:scale(0.6264,1.0250);transform-origin:0 18.62px;">%</div>
<div class="t" style="left:499.70px;top:532.67px;font-size:22px;color:#c8102e;transform:scale(0.7253,1.0250);transform-origin:0 18.62px;">4</div>
<svg style="position:absolute;left:510.50px;top:535.10px;overflow:visible" width="3.6" height="15.9"><path d="M2.95 0 V15.90 M2.65 0.5 L0.6 2.9" stroke="#c8102e" stroke-width="1.3" fill="none"/></svg>
<div class="t" style="left:514.90px;top:532.67px;font-size:22px;color:#c8102e;transform:scaleX(0.9091);transform-origin:0 18.62px;">,</div>
<div class="t" style="left:519.80px;top:532.67px;font-size:22px;color:#c8102e;transform:scale(0.7253,1.0250);transform-origin:0 18.62px;">9</div>
<div class="t" style="left:528.60px;top:532.67px;font-size:22px;color:#c8102e;transform:scale(0.7253,1.0250);transform-origin:0 18.62px;">4</div>
<div class="t" style="left:537.62px;top:532.67px;font-size:22px;color:#c8102e;transform:scale(0.6264,1.0250);transform-origin:0 18.62px;">%</div>
<svg style="position:absolute;left:612.30px;top:536.89px;overflow:visible" width="14" height="17"><path d="M10.7 1.6 Q6 8 1.6 14.9 M3.1 2.4 Q6 8 9.4 12.6" stroke="#cc0a1e" stroke-width="2.4" stroke-linecap="round" fill="none"/></svg>
<div class="t" style="left:23.76px;top:555.28px;font-size:22px;color:#000;transform:scaleX(0.6256);transform-origin:0 18.62px;">Харківська</div>
<svg style="position:absolute;left:199.30px;top:557.10px;overflow:visible" width="3.6" height="15.9"><path d="M2.95 0 V15.90 M2.65 0.5 L0.6 2.9" stroke="#17703a" stroke-width="1.3" fill="none"/></svg>
<div class="t" style="left:204.90px;top:555.28px;font-size:22px;color:#17703a;transform:scale(0.7253,1.0250);transform-origin:0 18.62px;">6</div>
<div class="t" style="left:212.50px;top:555.28px;font-size:22px;color:#17703a;transform:scaleX(0.9091);transform-origin:0 18.62px;">,</div>
<div class="t" style="left:217.40px;top:555.28px;font-size:22px;color:#17703a;transform:scale(0.7253,1.0250);transform-origin:0 18.62px;">3</div>
<div class="t" style="left:226.20px;top:555.28px;font-size:22px;color:#17703a;transform:scale(0.7253,1.0250);transform-origin:0 18.62px;">6</div>
<div class="t" style="left:235.22px;top:555.28px;font-size:22px;color:#17703a;transform:scale(0.6264,1.0250);transform-origin:0 18.62px;">%</div>
<div class="t" style="left:314.20px;top:555.28px;font-size:22px;color:#17703a;transform:scale(0.7253,1.0250);transform-origin:0 18.62px;">3</div>
<div class="t" style="left:323.00px;top:555.28px;font-size:22px;color:#17703a;transform:scale(0.7253,1.0250);transform-origin:0 18.62px;">4</div>
<div class="t" style="left:330.60px;top:555.28px;font-size:22px;color:#17703a;transform:scaleX(0.9091);transform-origin:0 18.62px;">,</div>
<div class="t" style="left:335.50px;top:555.28px;font-size:22px;color:#17703a;transform:scale(0.7253,1.0250);transform-origin:0 18.62px;">4</div>
<div class="t" style="left:344.30px;top:555.28px;font-size:22px;color:#17703a;transform:scale(0.7253,1.0250);transform-origin:0 18.62px;">2</div>
<svg style="position:absolute;left:402.80px;top:557.10px;overflow:visible" width="3.6" height="15.9"><path d="M2.95 0 V15.90 M2.65 0.5 L0.6 2.9" stroke="#17703a" stroke-width="1.3" fill="none"/></svg>
<div class="t" style="left:408.40px;top:555.28px;font-size:22px;color:#17703a;transform:scale(0.7253,1.0250);transform-origin:0 18.62px;">0</div>
<div class="t" style="left:416.00px;top:555.28px;font-size:22px;color:#17703a;transform:scaleX(0.9091);transform-origin:0 18.62px;">,</div>
<div class="t" style="left:420.90px;top:555.28px;font-size:22px;color:#17703a;transform:scale(0.7253,1.0250);transform-origin:0 18.62px;">9</div>
<div class="t" style="left:429.70px;top:555.28px;font-size:22px;color:#17703a;transform:scale(0.7253,1.0250);transform-origin:0 18.62px;">9</div>
<div class="t" style="left:438.72px;top:555.28px;font-size:22px;color:#17703a;transform:scale(0.6264,1.0250);transform-origin:0 18.62px;">%</div>
<div class="t" style="left:507.30px;top:555.28px;font-size:22px;color:#17703a;transform:scale(0.7253,1.0250);transform-origin:0 18.62px;">2</div>
<div class="t" style="left:514.90px;top:555.28px;font-size:22px;color:#17703a;transform:scaleX(0.9091);transform-origin:0 18.62px;">,</div>
<div class="t" style="left:519.80px;top:555.28px;font-size:22px;color:#17703a;transform:scale(0.7253,1.0250);transform-origin:0 18.62px;">5</div>
<div class="t" style="left:528.60px;top:555.28px;font-size:22px;color:#17703a;transform:scale(0.7253,1.0250);transform-origin:0 18.62px;">9</div>
<div class="t" style="left:537.62px;top:555.28px;font-size:22px;color:#17703a;transform:scale(0.6264,1.0250);transform-origin:0 18.62px;">%</div>
<svg style="position:absolute;left:610.00px;top:559.43px;overflow:visible" width="20" height="16"><polygon points="2.30,5.40 6.80,9.80 16.70,0.00 19.00,2.40 6.80,14.60 0.00,7.80" fill="#0b6a30"/></svg>
<div class="t" style="left:23.77px;top:577.90px;font-size:22px;color:#000;transform:scaleX(0.6066);transform-origin:0 18.62px;">Херсонська</div>
<svg style="position:absolute;left:208.10px;top:580.10px;overflow:visible" width="3.6" height="15.9"><path d="M2.95 0 V15.90 M2.65 0.5 L0.6 2.9" stroke="#17703a" stroke-width="1.3" fill="none"/></svg>
<div class="t" style="left:212.50px;top:577.90px;font-size:22px;color:#17703a;transform:scaleX(0.9091);transform-origin:0 18.62px;">,</div>
<div class="t" style="left:217.40px;top:577.90px;font-size:22px;color:#17703a;transform:scale(0.7253,1.0250);transform-origin:0 18.62px;">4</div>
<div class="t" style="left:226.20px;top:577.90px;font-size:22px;color:#17703a;transform:scale(0.7253,1.0250);transform-origin:0 18.62px;">0</div>
<div class="t" style="left:235.22px;top:577.90px;font-size:22px;color:#17703a;transform:scale(0.6264,1.0250);transform-origin:0 18.62px;">%</div>
<div class="t" style="left:314.20px;top:577.90px;font-size:22px;color:#17703a;transform:scale(0.7253,1.0250);transform-origin:0 18.62px;">8</div>
<div class="t" style="left:323.00px;top:577.90px;font-size:22px;color:#17703a;transform:scale(0.7253,1.0250);transform-origin:0 18.62px;">2</div>
<div class="t" style="left:330.60px;top:577.90px;font-size:22px;color:#17703a;transform:scaleX(0.9091);transform-origin:0 18.62px;">,</div>
<div class="t" style="left:335.50px;top:577.90px;font-size:22px;color:#17703a;transform:scale(0.7253,1.0250);transform-origin:0 18.62px;">0</div>
<div class="t" style="left:344.30px;top:577.90px;font-size:22px;color:#17703a;transform:scale(0.7253,1.0250);transform-origin:0 18.62px;">0</div>
<div class="t" style="left:409.00px;top:577.90px;font-size:22px;color:#17703a;transform:scale(0.7253,1.0250);transform-origin:0 18.62px;">0</div>
<div class="t" style="left:416.60px;top:577.90px;font-size:22px;color:#17703a;transform:scaleX(0.9091);transform-origin:0 18.62px;">,</div>
<div class="t" style="left:421.50px;top:577.90px;font-size:22px;color:#17703a;transform:scale(0.7253,1.0250);transform-origin:0 18.62px;">5</div>
<div class="t" style="left:430.30px;top:577.90px;font-size:22px;color:#17703a;transform:scale(0.7253,1.0250);transform-origin:0 18.62px;">7</div>
<div class="t" style="left:438.72px;top:577.90px;font-size:22px;color:#17703a;transform:scale(0.6264,1.0250);transform-origin:0 18.62px;">%</div>
<svg style="position:absolute;left:502.80px;top:586.30px;overflow:visible" width="5.5" height="8.2"><path d="M5.00 0.45 L0.6 4.10 L5.00 7.75" stroke="#17703a" stroke-width="1.25" fill="none" stroke-linejoin="miter"/></svg>
<div class="t" style="left:509.80px;top:577.90px;font-size:22px;color:#17703a;transform:scale(0.7253,1.0250);transform-origin:0 18.62px;">8</div>
<div class="t" style="left:518.70px;top:577.90px;font-size:22px;color:#17703a;transform:scaleX(0.9740);transform-origin:0 18.62px;">/</div>
<svg style="position:absolute;left:526.80px;top:580.10px;overflow:visible" width="3.6" height="15.9"><path d="M2.95 0 V15.90 M2.65 0.5 L0.6 2.9" stroke="#17703a" stroke-width="1.3" fill="none"/></svg>
<div class="t" style="left:532.40px;top:577.90px;font-size:22px;color:#17703a;transform:scale(0.7253,1.0250);transform-origin:0 18.62px;">0</div>
<div class="t" style="left:541.20px;top:577.90px;font-size:22px;color:#17703a;transform:scale(0.7253,1.0250);transform-origin:0 18.62px;">0</div>
<svg style="position:absolute;left:610.00px;top:582.05px;overflow:visible" width="20" height="16"><polygon points="2.30,5.40 6.80,9.80 16.70,0.00 19.00,2.40 6.80,14.60 0.00,7.80" fill="#0b6a30"/></svg>
<div class="t" style="left:23.76px;top:600.51px;font-size:22px;color:#000;transform:scaleX(0.6183);transform-origin:0 18.62px;">Хмельницька</div>
<div class="t" style="left:204.90px;top:600.51px;font-size:22px;color:#17703a;transform:scale(0.7253,1.0250);transform-origin:0 18.62px;">6</div>
<div class="t" style="left:212.50px;top:600.51px;font-size:22px;color:#17703a;transform:scaleX(0.9091);transform-origin:0 18.62px;">,</div>
<div class="t" style="left:217.40px;top:600.51px;font-size:22px;color:#17703a;transform:scale(0.7253,1.0250);transform-origin:0 18.62px;">3</div>
<div class="t" style="left:226.20px;top:600.51px;font-size:22px;color:#17703a;transform:scale(0.7253,1.0250);transform-origin:0 18.62px;">2</div>
<div class="t" style="left:235.22px;top:600.51px;font-size:22px;color:#17703a;transform:scale(0.6264,1.0250);transform-origin:0 18.62px;">%</div>
<div class="t" style="left:314.80px;top:600.51px;font-size:22px;color:#17703a;transform:scale(0.7253,1.0250);transform-origin:0 18.62px;">4</div>
<div class="t" style="left:323.60px;top:600.51px;font-size:22px;color:#17703a;transform:scale(0.7253,1.0250);transform-origin:0 18.62px;">4</div>
<div class="t" style="left:331.20px;top:600.51px;font-size:22px;color:#17703a;transform:scaleX(0.9091);transform-origin:0 18.62px;">,</div>
<div class="t" style="left:336.10px;top:600.51px;font-size:22px;color:#17703a;transform:scale(0.7253,1.0250);transform-origin:0 18.62px;">6</div>
<div class="t" style="left:344.90px;top:600.51px;font-size:22px;color:#17703a;transform:scale(0.7253,1.0250);transform-origin:0 18.62px;">7</div>
<div class="t" style="left:408.40px;top:600.51px;font-size:22px;color:#17703a;transform:scale(0.7253,1.0250);transform-origin:0 18.62px;">4</div>
<div class="t" style="left:416.00px;top:600.51px;font-size:22px;color:#17703a;transform:scaleX(0.9091);transform-origin:0 18.62px;">,</div>
<div class="t" style="left:420.90px;top:600.51px;font-size:22px;color:#17703a;transform:scale(0.7253,1.0250);transform-origin:0 18.62px;">5</div>
<div class="t" style="left:429.70px;top:600.51px;font-size:22px;color:#17703a;transform:scale(0.7253,1.0250);transform-origin:0 18.62px;">0</div>
<div class="t" style="left:438.72px;top:600.51px;font-size:22px;color:#17703a;transform:scale(0.6264,1.0250);transform-origin:0 18.62px;">%</div>
<svg style="position:absolute;left:502.80px;top:609.30px;overflow:visible" width="5.5" height="8.2"><path d="M5.00 0.45 L0.6 4.10 L5.00 7.75" stroke="#17703a" stroke-width="1.25" fill="none" stroke-linejoin="miter"/></svg>
<div class="t" style="left:509.80px;top:600.51px;font-size:22px;color:#17703a;transform:scale(0.7253,1.0250);transform-origin:0 18.62px;">8</div>
<div class="t" style="left:518.70px;top:600.51px;font-size:22px;color:#17703a;transform:scaleX(0.9740);transform-origin:0 18.62px;">/</div>
<svg style="position:absolute;left:526.80px;top:603.10px;overflow:visible" width="3.6" height="15.9"><path d="M2.95 0 V15.90 M2.65 0.5 L0.6 2.9" stroke="#17703a" stroke-width="1.3" fill="none"/></svg>
<div class="t" style="left:532.40px;top:600.51px;font-size:22px;color:#17703a;transform:scale(0.7253,1.0250);transform-origin:0 18.62px;">0</div>
<div class="t" style="left:541.20px;top:600.51px;font-size:22px;color:#17703a;transform:scale(0.7253,1.0250);transform-origin:0 18.62px;">0</div>
<svg style="position:absolute;left:610.00px;top:604.66px;overflow:visible" width="20" height="16"><polygon points="2.30,5.40 6.80,9.80 16.70,0.00 19.00,2.40 6.80,14.60 0.00,7.80" fill="#0b6a30"/></svg>
<div class="t" style="left:24.24px;top:623.13px;font-size:22px;color:#000;transform:scaleX(0.6019);transform-origin:0 18.62px;">Черкаська</div>
<div class="t" style="left:205.50px;top:623.13px;font-size:22px;color:#17703a;transform:scale(0.7253,1.0250);transform-origin:0 18.62px;">5</div>
<div class="t" style="left:213.10px;top:623.13px;font-size:22px;color:#17703a;transform:scaleX(0.9091);transform-origin:0 18.62px;">,</div>
<div class="t" style="left:218.00px;top:623.13px;font-size:22px;color:#17703a;transform:scale(0.7253,1.0250);transform-origin:0 18.62px;">7</div>
<div class="t" style="left:226.20px;top:623.13px;font-size:22px;color:#17703a;transform:scale(0.7253,1.0250);transform-origin:0 18.62px;">8</div>
<div class="t" style="left:235.22px;top:623.13px;font-size:22px;color:#17703a;transform:scale(0.6264,1.0250);transform-origin:0 18.62px;">%</div>
<div class="t" style="left:314.20px;top:623.13px;font-size:22px;color:#17703a;transform:scale(0.7253,1.0250);transform-origin:0 18.62px;">6</div>
<div class="t" style="left:323.00px;top:623.13px;font-size:22px;color:#17703a;transform:scale(0.7253,1.0250);transform-origin:0 18.62px;">6</div>
<div class="t" style="left:330.60px;top:623.13px;font-size:22px;color:#17703a;transform:scaleX(0.9091);transform-origin:0 18.62px;">,</div>
<div class="t" style="left:335.50px;top:623.13px;font-size:22px;color:#17703a;transform:scale(0.7253,1.0250);transform-origin:0 18.62px;">6</div>
<div class="t" style="left:344.30px;top:623.13px;font-size:22px;color:#17703a;transform:scale(0.7253,1.0250);transform-origin:0 18.62px;">4</div>
<div class="t" style="left:408.40px;top:623.13px;font-size:22px;color:#17703a;transform:scale(0.7253,1.0250);transform-origin:0 18.62px;">2</div>
<div class="t" style="left:416.00px;top:623.13px;font-size:22px;color:#17703a;transform:scaleX(0.9091);transform-origin:0 18.62px;">,</div>
<div class="t" style="left:420.90px;top:623.13px;font-size:22px;color:#17703a;transform:scale(0.7253,1.0250);transform-origin:0 18.62px;">3</div>
<div class="t" style="left:429.70px;top:623.13px;font-size:22px;color:#17703a;transform:scale(0.7253,1.0250);transform-origin:0 18.62px;">4</div>
<div class="t" style="left:438.72px;top:623.13px;font-size:22px;color:#17703a;transform:scale(0.6264,1.0250);transform-origin:0 18.62px;">%</div>
<svg style="position:absolute;left:502.80px;top:631.30px;overflow:visible" width="5.5" height="8.2"><path d="M5.00 0.45 L0.6 4.10 L5.00 7.75" stroke="#17703a" stroke-width="1.25" fill="none" stroke-linejoin="miter"/></svg>
<div class="t" style="left:509.80px;top:623.13px;font-size:22px;color:#17703a;transform:scale(0.7253,1.0250);transform-origin:0 18.62px;">8</div>
<div class="t" style="left:518.70px;top:623.13px;font-size:22px;color:#17703a;transform:scaleX(0.9740);transform-origin:0 18.62px;">/</div>
<svg style="position:absolute;left:526.80px;top:625.10px;overflow:visible" width="3.6" height="15.9"><path d="M2.95 0 V15.90 M2.65 0.5 L0.6 2.9" stroke="#17703a" stroke-width="1.3" fill="none"/></svg>
<div class="t" style="left:532.40px;top:623.13px;font-size:22px;color:#17703a;transform:scale(0.7253,1.0250);transform-origin:0 18.62px;">0</div>
<div class="t" style="left:541.20px;top:623.13px;font-size:22px;color:#17703a;transform:scale(0.7253,1.0250);transform-origin:0 18.62px;">0</div>
<svg style="position:absolute;left:610.00px;top:627.28px;overflow:visible" width="20" height="16"><polygon points="2.30,5.40 6.80,9.80 16.70,0.00 19.00,2.40 6.80,14.60 0.00,7.80" fill="#0b6a30"/></svg>
<div class="t" style="left:24.20px;top:645.74px;font-size:22px;color:#000;transform:scaleX(0.6232);transform-origin:0 18.62px;">Чернівецька</div>
<div class="t" style="left:196.10px;top:645.74px;font-size:22px;color:#17703a;transform:scale(0.7253,1.0250);transform-origin:0 18.62px;">3</div>
<div class="t" style="left:204.90px;top:645.74px;font-size:22px;color:#17703a;transform:scale(0.7253,1.0250);transform-origin:0 18.62px;">5</div>
<div class="t" style="left:212.50px;top:645.74px;font-size:22px;color:#17703a;transform:scaleX(0.9091);transform-origin:0 18.62px;">,</div>
<div class="t" style="left:217.40px;top:645.74px;font-size:22px;color:#17703a;transform:scale(0.7253,1.0250);transform-origin:0 18.62px;">5</div>
<div class="t" style="left:226.20px;top:645.74px;font-size:22px;color:#17703a;transform:scale(0.7253,1.0250);transform-origin:0 18.62px;">2</div>
<div class="t" style="left:235.22px;top:645.74px;font-size:22px;color:#17703a;transform:scale(0.6264,1.0250);transform-origin:0 18.62px;">%</div>
<div class="t" style="left:315.40px;top:645.74px;font-size:22px;color:#17703a;transform:scale(0.7253,1.0250);transform-origin:0 18.62px;">4</div>
<div class="t" style="left:324.20px;top:645.74px;font-size:22px;color:#17703a;transform:scale(0.7253,1.0250);transform-origin:0 18.62px;">0</div>
<div class="t" style="left:331.80px;top:645.74px;font-size:22px;color:#17703a;transform:scaleX(0.9091);transform-origin:0 18.62px;">,</div>
<svg style="position:absolute;left:338.70px;top:648.10px;overflow:visible" width="3.6" height="15.9"><path d="M2.95 0 V15.90 M2.65 0.5 L0.6 2.9" stroke="#17703a" stroke-width="1.3" fill="none"/></svg>
<div class="t" style="left:344.30px;top:645.74px;font-size:22px;color:#17703a;transform:scale(0.7253,1.0250);transform-origin:0 18.62px;">8</div>
<div class="t" style="left:408.40px;top:645.74px;font-size:22px;color:#17703a;transform:scale(0.7253,1.0250);transform-origin:0 18.62px;">8</div>
<div class="t" style="left:416.00px;top:645.74px;font-size:22px;color:#17703a;transform:scaleX(0.9091);transform-origin:0 18.62px;">,</div>
<div class="t" style="left:420.90px;top:645.74px;font-size:22px;color:#17703a;transform:scale(0.7253,1.0250);transform-origin:0 18.62px;">0</div>
<div class="t" style="left:429.70px;top:645.74px;font-size:22px;color:#17703a;transform:scale(0.7253,1.0250);transform-origin:0 18.62px;">0</div>
<div class="t" style="left:438.72px;top:645.74px;font-size:22px;color:#17703a;transform:scale(0.6264,1.0250);transform-origin:0 18.62px;">%</div>
<div class="t" style="left:493.07px;top:645.14px;font-size:22px;color:#17703a;transform:scaleX(0.8349);transform-origin:0 18.62px;">-</div>
<div class="t" style="left:498.50px;top:645.74px;font-size:22px;color:#17703a;transform:scale(0.7253,1.0250);transform-origin:0 18.62px;">2</div>
<div class="t" style="left:507.30px;top:645.74px;font-size:22px;color:#17703a;transform:scale(0.7253,1.0250);transform-origin:0 18.62px;">6</div>
<div class="t" style="left:514.90px;top:645.74px;font-size:22px;color:#17703a;transform:scaleX(0.9091);transform-origin:0 18.62px;">,</div>
<div class="t" style="left:519.80px;top:645.74px;font-size:22px;color:#17703a;transform:scale(0.7253,1.0250);transform-origin:0 18.62px;">4</div>
<div class="t" style="left:528.60px;top:645.74px;font-size:22px;color:#17703a;transform:scale(0.7253,1.0250);transform-origin:0 18.62px;">2</div>
<div class="t" style="left:537.62px;top:645.74px;font-size:22px;color:#17703a;transform:scale(0.6264,1.0250);transform-origin:0 18.62px;">%</div>
<svg style="position:absolute;left:610.00px;top:649.89px;overflow:visible" width="20" height="16"><polygon points="2.30,5.40 6.80,9.80 16.70,0.00 19.00,2.40 6.80,14.60 0.00,7.80" fill="#0b6a30"/></svg>
<div class="t" style="left:24.15px;top:668.36px;font-size:22px;color:#000;transform:scaleX(0.6509);transform-origin:0 18.62px;">Чернігівська</div>
<div class="t" style="left:205.50px;top:668.36px;font-size:22px;color:#17703a;transform:scale(0.7253,1.0250);transform-origin:0 18.62px;">9</div>
<div class="t" style="left:213.10px;top:668.36px;font-size:22px;color:#17703a;transform:scaleX(0.9091);transform-origin:0 18.62px;">,</div>
<div class="t" style="left:218.00px;top:668.36px;font-size:22px;color:#17703a;transform:scale(0.7253,1.0250);transform-origin:0 18.62px;">8</div>
<div class="t" style="left:226.80px;top:668.36px;font-size:22px;color:#17703a;transform:scale(0.7253,1.0250);transform-origin:0 18.62px;">7</div>
<div class="t" style="left:235.22px;top:668.36px;font-size:22px;color:#17703a;transform:scale(0.6264,1.0250);transform-origin:0 18.62px;">%</div>
<svg style="position:absolute;left:317.40px;top:670.10px;overflow:visible" width="3.6" height="15.9"><path d="M2.95 0 V15.90 M2.65 0.5 L0.6 2.9" stroke="#c8102e" stroke-width="1.3" fill="none"/></svg>
<div class="t" style="left:323.00px;top:668.36px;font-size:22px;color:#c8102e;transform:scale(0.7253,1.0250);transform-origin:0 18.62px;">8</div>
<div class="t" style="left:330.60px;top:668.36px;font-size:22px;color:#c8102e;transform:scaleX(0.9091);transform-origin:0 18.62px;">,</div>
<div class="t" style="left:335.50px;top:668.36px;font-size:22px;color:#c8102e;transform:scale(0.7253,1.0250);transform-origin:0 18.62px;">5</div>
<div class="t" style="left:344.30px;top:668.36px;font-size:22px;color:#c8102e;transform:scale(0.7253,1.0250);transform-origin:0 18.62px;">4</div>
<div class="t" style="left:409.00px;top:668.36px;font-size:22px;color:#17703a;transform:scale(0.7253,1.0250);transform-origin:0 18.62px;">3</div>
<div class="t" style="left:416.60px;top:668.36px;font-size:22px;color:#17703a;transform:scaleX(0.9091);transform-origin:0 18.62px;">,</div>
<div class="t" style="left:421.50px;top:668.36px;font-size:22px;color:#17703a;transform:scale(0.7253,1.0250);transform-origin:0 18.62px;">7</div>
<div class="t" style="left:429.70px;top:668.36px;font-size:22px;color:#17703a;transform:scale(0.7253,1.0250);transform-origin:0 18.62px;">2</div>
<div class="t" style="left:438.72px;top:668.36px;font-size:22px;color:#17703a;transform:scale(0.6264,1.0250);transform-origin:0 18.62px;">%</div>
<svg style="position:absolute;left:502.80px;top:676.30px;overflow:visible" width="5.5" height="8.2"><path d="M5.00 0.45 L0.6 4.10 L5.00 7.75" stroke="#17703a" stroke-width="1.25" fill="none" stroke-linejoin="miter"/></svg>
<div class="t" style="left:509.80px;top:668.36px;font-size:22px;color:#17703a;transform:scale(0.7253,1.0250);transform-origin:0 18.62px;">8</div>
<div class="t" style="left:518.70px;top:668.36px;font-size:22px;color:#17703a;transform:scaleX(0.9740);transform-origin:0 18.62px;">/</div>
<svg style="position:absolute;left:526.80px;top:670.10px;overflow:visible" width="3.6" height="15.9"><path d="M2.95 0 V15.90 M2.65 0.5 L0.6 2.9" stroke="#17703a" stroke-width="1.3" fill="none"/></svg>
<div class="t" style="left:532.40px;top:668.36px;font-size:22px;color:#17703a;transform:scale(0.7253,1.0250);transform-origin:0 18.62px;">0</div>
<div class="t" style="left:541.20px;top:668.36px;font-size:22px;color:#17703a;transform:scale(0.7253,1.0250);transform-origin:0 18.62px;">0</div>
<svg style="position:absolute;left:612.30px;top:672.58px;overflow:visible" width="14" height="17"><path d="M10.7 1.6 Q6 8 1.6 14.9 M3.1 2.4 Q6 8 9.4 12.6" stroke="#cc0a1e" stroke-width="2.4" stroke-linecap="round" fill="none"/></svg>
<div class="t" style="left:24.40px;top:690.97px;font-size:22px;color:#000;transform:scaleX(0.6199);transform-origin:0 18.62px;">АР Крим</div>
<div class="t" style="left:313.64px;top:690.97px;font-size:22px;color:#000;transform:scaleX(0.6861);transform-origin:0 18.62px;">відсутні дані</div>
<svg style="position:absolute;left:612.30px;top:695.20px;overflow:visible" width="14" height="17"><path d="M10.7 1.6 Q6 8 1.6 14.9 M3.1 2.4 Q6 8 9.4 12.6" stroke="#cc0a1e" stroke-width="2.4" stroke-linecap="round" fill="none"/></svg>
<div class="t" style="left:23.17px;top:713.59px;font-size:22px;color:#000;transform:scaleX(0.6010);transform-origin:0 18.62px;">м. Севастополь</div>
<div class="t" style="left:313.64px;top:713.59px;font-size:22px;color:#000;transform:scaleX(0.6861);transform-origin:0 18.62px;">відсутні дані</div>
<svg style="position:absolute;left:612.30px;top:717.81px;overflow:visible" width="14" height="17"><path d="M10.7 1.6 Q6 8 1.6 14.9 M3.1 2.4 Q6 8 9.4 12.6" stroke="#cc0a1e" stroke-width="2.4" stroke-linecap="round" fill="none"/></svg>
<div style="position:absolute;left:30.2px;top:0;width:1.6px;height:1px;background:#223"></div>
<div style="position:absolute;left:171.2px;top:0;width:1.6px;height:1px;background:#223"></div>
<div style="position:absolute;left:179.0px;top:0;width:1.6px;height:1px;background:#223"></div>
<div style="position:absolute;left:273.8px;top:0;width:2.4px;height:1px;background:#223"></div>
<div style="position:absolute;left:298.8px;top:0;width:1.4px;height:1px;background:#223"></div>
<div style="position:absolute;left:331.2px;top:0;width:1.5px;height:1px;background:#223"></div>
</div>
</body></html>
